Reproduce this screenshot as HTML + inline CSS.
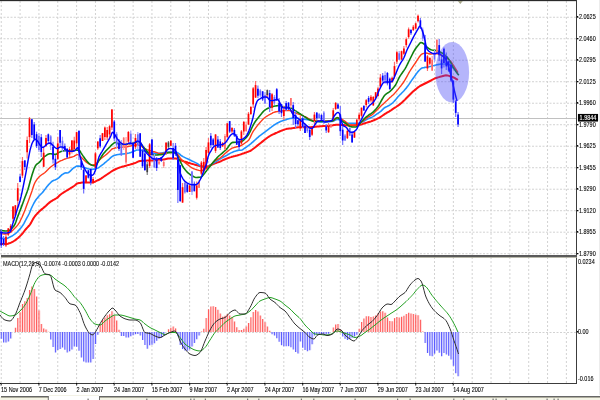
<!DOCTYPE html>
<html><head><meta charset="utf-8"><style>
html,body{margin:0;padding:0;background:#fff;width:600px;height:400px;overflow:hidden;}
svg{display:block;}
</style></head><body>
<svg width="600" height="400" viewBox="0 0 600 400"><g stroke="#d2d2d2" stroke-width="1"><line x1="1.25" y1="1" x2="1.25" y2="255" stroke-dasharray="2 2"/><line x1="1.25" y1="257" x2="1.25" y2="383" stroke-dasharray="2 2"/><line x1="20.09" y1="1" x2="20.09" y2="255" stroke-dasharray="2 2"/><line x1="20.09" y1="257" x2="20.09" y2="383" stroke-dasharray="2 2"/><line x1="38.93" y1="1" x2="38.93" y2="255" stroke-dasharray="2 2"/><line x1="38.93" y1="257" x2="38.93" y2="383" stroke-dasharray="2 2"/><line x1="57.76" y1="1" x2="57.76" y2="255" stroke-dasharray="2 2"/><line x1="57.76" y1="257" x2="57.76" y2="383" stroke-dasharray="2 2"/><line x1="76.6" y1="1" x2="76.6" y2="255" stroke-dasharray="2 2"/><line x1="76.6" y1="257" x2="76.6" y2="383" stroke-dasharray="2 2"/><line x1="95.44" y1="1" x2="95.44" y2="255" stroke-dasharray="2 2"/><line x1="95.44" y1="257" x2="95.44" y2="383" stroke-dasharray="2 2"/><line x1="114.28" y1="1" x2="114.28" y2="255" stroke-dasharray="2 2"/><line x1="114.28" y1="257" x2="114.28" y2="383" stroke-dasharray="2 2"/><line x1="133.12" y1="1" x2="133.12" y2="255" stroke-dasharray="2 2"/><line x1="133.12" y1="257" x2="133.12" y2="383" stroke-dasharray="2 2"/><line x1="151.95" y1="1" x2="151.95" y2="255" stroke-dasharray="2 2"/><line x1="151.95" y1="257" x2="151.95" y2="383" stroke-dasharray="2 2"/><line x1="170.79" y1="1" x2="170.79" y2="255" stroke-dasharray="2 2"/><line x1="170.79" y1="257" x2="170.79" y2="383" stroke-dasharray="2 2"/><line x1="189.63" y1="1" x2="189.63" y2="255" stroke-dasharray="2 2"/><line x1="189.63" y1="257" x2="189.63" y2="383" stroke-dasharray="2 2"/><line x1="208.47" y1="1" x2="208.47" y2="255" stroke-dasharray="2 2"/><line x1="208.47" y1="257" x2="208.47" y2="383" stroke-dasharray="2 2"/><line x1="227.31" y1="1" x2="227.31" y2="255" stroke-dasharray="2 2"/><line x1="227.31" y1="257" x2="227.31" y2="383" stroke-dasharray="2 2"/><line x1="246.14" y1="1" x2="246.14" y2="255" stroke-dasharray="2 2"/><line x1="246.14" y1="257" x2="246.14" y2="383" stroke-dasharray="2 2"/><line x1="264.98" y1="1" x2="264.98" y2="255" stroke-dasharray="2 2"/><line x1="264.98" y1="257" x2="264.98" y2="383" stroke-dasharray="2 2"/><line x1="283.82" y1="1" x2="283.82" y2="255" stroke-dasharray="2 2"/><line x1="283.82" y1="257" x2="283.82" y2="383" stroke-dasharray="2 2"/><line x1="302.66" y1="1" x2="302.66" y2="255" stroke-dasharray="2 2"/><line x1="302.66" y1="257" x2="302.66" y2="383" stroke-dasharray="2 2"/><line x1="321.5" y1="1" x2="321.5" y2="255" stroke-dasharray="2 2"/><line x1="321.5" y1="257" x2="321.5" y2="383" stroke-dasharray="2 2"/><line x1="340.33" y1="1" x2="340.33" y2="255" stroke-dasharray="2 2"/><line x1="340.33" y1="257" x2="340.33" y2="383" stroke-dasharray="2 2"/><line x1="359.17" y1="1" x2="359.17" y2="255" stroke-dasharray="2 2"/><line x1="359.17" y1="257" x2="359.17" y2="383" stroke-dasharray="2 2"/><line x1="378.01" y1="1" x2="378.01" y2="255" stroke-dasharray="2 2"/><line x1="378.01" y1="257" x2="378.01" y2="383" stroke-dasharray="2 2"/><line x1="396.85" y1="1" x2="396.85" y2="255" stroke-dasharray="2 2"/><line x1="396.85" y1="257" x2="396.85" y2="383" stroke-dasharray="2 2"/><line x1="415.69" y1="1" x2="415.69" y2="255" stroke-dasharray="2 2"/><line x1="415.69" y1="257" x2="415.69" y2="383" stroke-dasharray="2 2"/><line x1="434.52" y1="1" x2="434.52" y2="255" stroke-dasharray="2 2"/><line x1="434.52" y1="257" x2="434.52" y2="383" stroke-dasharray="2 2"/><line x1="453.36" y1="1" x2="453.36" y2="255" stroke-dasharray="2 2"/><line x1="453.36" y1="257" x2="453.36" y2="383" stroke-dasharray="2 2"/><line x1="472.2" y1="1" x2="472.2" y2="255" stroke-dasharray="2 2"/><line x1="472.2" y1="257" x2="472.2" y2="383" stroke-dasharray="2 2"/><line x1="491.04" y1="1" x2="491.04" y2="255" stroke-dasharray="2 2"/><line x1="491.04" y1="257" x2="491.04" y2="383" stroke-dasharray="2 2"/><line x1="509.88" y1="1" x2="509.88" y2="255" stroke-dasharray="2 2"/><line x1="509.88" y1="257" x2="509.88" y2="383" stroke-dasharray="2 2"/><line x1="528.71" y1="1" x2="528.71" y2="255" stroke-dasharray="2 2"/><line x1="528.71" y1="257" x2="528.71" y2="383" stroke-dasharray="2 2"/><line x1="547.55" y1="1" x2="547.55" y2="255" stroke-dasharray="2 2"/><line x1="547.55" y1="257" x2="547.55" y2="383" stroke-dasharray="2 2"/><line x1="566.39" y1="1" x2="566.39" y2="255" stroke-dasharray="2 2"/><line x1="566.39" y1="257" x2="566.39" y2="383" stroke-dasharray="2 2"/><line x1="0" y1="17.25" x2="576" y2="17.25" stroke-dasharray="2 1.5"/><line x1="0" y1="38.75" x2="576" y2="38.75" stroke-dasharray="2 1.5"/><line x1="0" y1="60.24" x2="576" y2="60.24" stroke-dasharray="2 1.5"/><line x1="0" y1="81.73" x2="576" y2="81.73" stroke-dasharray="2 1.5"/><line x1="0" y1="103.23" x2="576" y2="103.23" stroke-dasharray="2 1.5"/><line x1="0" y1="124.73" x2="576" y2="124.73" stroke-dasharray="2 1.5"/><line x1="0" y1="146.22" x2="576" y2="146.22" stroke-dasharray="2 1.5"/><line x1="0" y1="167.72" x2="576" y2="167.72" stroke-dasharray="2 1.5"/><line x1="0" y1="189.21" x2="576" y2="189.21" stroke-dasharray="2 1.5"/><line x1="0" y1="210.71" x2="576" y2="210.71" stroke-dasharray="2 1.5"/><line x1="0" y1="232.2" x2="576" y2="232.2" stroke-dasharray="2 1.5"/><line x1="0" y1="253.7" x2="576" y2="253.7" stroke-dasharray="2 1.5"/><line x1="0" y1="332.5" x2="576" y2="332.5" stroke-dasharray="2 1.5"/></g>
<line x1="0" y1="118.5" x2="576" y2="118.5" stroke="#c0c0c0" stroke-width="1"/>
<polyline points="0.0,244.0 1.0,244.0 2.0,244.0 3.0,244.0 4.0,244.0 5.0,244.0 6.0,244.0 7.0,243.9 8.0,243.7 9.0,243.3 10.0,243.0 11.0,242.6 12.0,242.1 13.0,241.6 14.0,241.0 15.0,240.4 16.0,239.6 17.0,238.8 18.0,238.0 19.0,237.1 20.0,236.1 21.0,235.1 22.0,234.0 23.0,232.8 24.0,231.5 25.0,230.2 26.0,229.0 27.0,227.9 28.0,226.8 29.0,225.8 30.0,224.5 31.0,222.9 32.0,221.0 33.0,219.1 34.0,217.5 35.0,216.2 36.0,214.9 37.0,213.8 38.0,212.8 39.0,211.7 40.0,210.8 41.0,209.9 42.0,209.1 43.0,208.3 44.0,207.4 45.0,206.6 46.0,205.7 47.0,204.7 48.0,203.8 49.0,202.9 50.0,202.1 51.0,201.4 52.0,200.8 53.0,200.2 54.0,199.7 55.0,199.1 56.0,198.5 57.0,197.9 58.0,197.1 59.0,196.0 60.0,195.0 61.0,194.2 62.0,193.5 63.0,192.9 64.0,192.2 65.0,191.6 66.0,191.0 67.0,190.4 68.0,189.8 69.0,189.2 70.0,188.5 71.0,187.9 72.0,187.3 73.0,186.7 74.0,186.0 75.0,185.2 76.0,184.3 77.0,183.6 78.0,183.3 79.0,183.1 80.0,182.9 81.0,182.7 82.0,182.6 83.0,182.5 84.0,182.5 85.0,182.5 86.0,182.5 87.0,182.5 88.0,182.5 89.0,182.5 90.0,182.5 91.0,182.5 92.0,182.5 93.0,182.3 94.0,182.0 95.0,181.7 96.0,181.2 97.0,180.7 98.0,180.2 99.0,179.8 100.0,179.2 101.0,178.6 102.0,177.9 103.0,177.2 104.0,176.5 105.0,175.8 106.0,175.2 107.0,174.5 108.0,173.8 109.0,173.2 110.0,172.5 111.0,171.8 112.0,171.1 113.0,170.5 114.0,170.0 115.0,169.5 116.0,169.0 117.0,168.6 118.0,168.1 119.0,167.8 120.0,167.4 121.0,167.1 122.0,166.8 123.0,166.5 124.0,166.3 125.0,166.0 126.0,165.7 127.0,165.4 128.0,165.1 129.0,164.9 130.0,164.6 131.0,164.3 132.0,164.0 133.0,163.7 134.0,163.3 135.0,163.0 136.0,162.6 137.0,162.1 138.0,161.6 139.0,161.2 140.0,161.0 141.0,160.9 142.0,160.8 143.0,160.8 144.0,160.7 145.0,160.7 146.0,160.7 147.0,160.6 148.0,160.6 149.0,160.5 150.0,160.5 151.0,160.5 152.0,160.4 153.0,160.4 154.0,160.3 155.0,160.3 156.0,160.2 157.0,160.2 158.0,160.1 159.0,160.1 160.0,160.0 161.0,159.9 162.0,159.7 163.0,159.6 164.0,159.4 165.0,159.2 166.0,159.0 167.0,158.8 168.0,158.6 169.0,158.5 170.0,158.5 171.0,158.5 172.0,158.5 173.0,158.5 174.0,158.5 175.0,158.5 176.0,158.5 177.0,158.7 178.0,159.1 179.0,159.6 180.0,160.0 181.0,160.4 182.0,160.7 183.0,161.0 184.0,161.4 185.0,161.7 186.0,162.0 187.0,162.3 188.0,162.7 189.0,163.0 190.0,163.3 191.0,163.6 192.0,163.9 193.0,164.1 194.0,164.4 195.0,164.7 196.0,165.0 197.0,165.3 198.0,165.6 199.0,165.9 200.0,166.1 201.0,166.2 202.0,166.3 203.0,166.4 204.0,166.4 205.0,166.5 206.0,166.5 207.0,166.5 208.0,166.3 209.0,166.0 210.0,165.6 211.0,165.1 212.0,164.6 213.0,164.2 214.0,163.7 215.0,163.3 216.0,163.0 217.0,162.6 218.0,162.3 219.0,162.0 220.0,161.6 221.0,161.2 222.0,160.7 223.0,160.2 224.0,159.7 225.0,159.3 226.0,158.8 227.0,158.5 228.0,158.1 229.0,157.7 230.0,157.4 231.0,157.1 232.0,156.7 233.0,156.5 234.0,156.2 235.0,156.0 236.0,155.7 237.0,155.5 238.0,155.2 239.0,154.9 240.0,154.6 241.0,154.3 242.0,153.9 243.0,153.5 244.0,153.2 245.0,152.8 246.0,152.5 247.0,152.1 248.0,151.8 249.0,151.4 250.0,151.0 251.0,150.5 252.0,149.8 253.0,149.0 254.0,148.3 255.0,147.5 256.0,146.7 257.0,145.9 258.0,145.1 259.0,144.3 260.0,143.5 261.0,142.7 262.0,141.9 263.0,141.1 264.0,140.3 265.0,139.5 266.0,138.8 267.0,138.0 268.0,137.3 269.0,136.6 270.0,136.0 271.0,135.4 272.0,134.9 273.0,134.4 274.0,134.0 275.0,133.5 276.0,133.0 277.0,132.6 278.0,132.1 279.0,131.7 280.0,131.3 281.0,130.9 282.0,130.5 283.0,130.1 284.0,129.7 285.0,129.4 286.0,129.1 287.0,128.8 288.0,128.7 289.0,128.6 290.0,128.5 291.0,128.4 292.0,128.2 293.0,128.1 294.0,127.9 295.0,127.7 296.0,127.6 297.0,127.4 298.0,127.3 299.0,127.2 300.0,127.2 301.0,127.2 302.0,127.2 303.0,127.2 304.0,127.2 305.0,127.2 306.0,127.2 307.0,127.2 308.0,127.2 309.0,127.2 310.0,127.2 311.0,127.2 312.0,127.1 313.0,127.1 314.0,127.0 315.0,126.8 316.0,126.7 317.0,126.6 318.0,126.5 319.0,126.4 320.0,126.3 321.0,126.2 322.0,126.2 323.0,126.1 324.0,126.1 325.0,126.0 326.0,126.0 327.0,125.9 328.0,125.8 329.0,125.8 330.0,125.7 331.0,125.6 332.0,125.4 333.0,125.3 334.0,125.1 335.0,124.9 336.0,124.8 337.0,124.8 338.0,124.8 339.0,124.8 340.0,124.9 341.0,125.0 342.0,125.0 343.0,125.1 344.0,125.1 345.0,125.2 346.0,125.2 347.0,125.3 348.0,125.4 349.0,125.4 350.0,125.4 351.0,125.4 352.0,125.4 353.0,125.4 354.0,125.4 355.0,125.3 356.0,125.3 357.0,125.3 358.0,125.1 359.0,125.0 360.0,124.8 361.0,124.6 362.0,124.3 363.0,123.9 364.0,123.5 365.0,123.2 366.0,122.9 367.0,122.6 368.0,122.3 369.0,122.0 370.0,121.7 371.0,121.4 372.0,121.0 373.0,120.6 374.0,120.2 375.0,119.8 376.0,119.4 377.0,118.9 378.0,118.4 379.0,117.9 380.0,117.3 381.0,116.7 382.0,116.0 383.0,115.3 384.0,114.6 385.0,113.9 386.0,113.3 387.0,112.7 388.0,112.1 389.0,111.6 390.0,110.9 391.0,110.3 392.0,109.6 393.0,108.9 394.0,108.2 395.0,107.6 396.0,107.0 397.0,106.3 398.0,105.6 399.0,104.9 400.0,104.1 401.0,103.3 402.0,102.4 403.0,101.5 404.0,100.6 405.0,99.6 406.0,98.5 407.0,97.5 408.0,96.5 409.0,95.5 410.0,94.5 411.0,93.5 412.0,92.5 413.0,91.6 414.0,90.7 415.0,89.9 416.0,89.1 417.0,88.2 418.0,87.4 419.0,86.7 420.0,86.0 421.0,85.5 422.0,85.0 423.0,84.5 424.0,84.0 425.0,83.5 426.0,83.0 427.0,82.5 428.0,82.0 429.0,81.5 430.0,81.0 431.0,80.5 432.0,79.9 433.0,79.4 434.0,78.9 435.0,78.4 436.0,78.0 437.0,77.7 438.0,77.4 439.0,77.1 440.0,76.8 441.0,76.6 442.0,76.3 443.0,76.0 444.0,75.7 445.0,75.4 446.0,75.3 447.0,75.4 448.0,75.6 449.0,75.9 450.0,76.2 451.0,76.5 452.0,76.8 453.0,77.2 454.0,77.7 455.0,78.2 456.0,78.8 457.0,79.4 457.8,80.0" fill="none" stroke="#ff1010" stroke-width="2.0" stroke-linejoin="round" />
<polyline points="0.0,238.0 1.0,238.2 2.0,238.4 3.0,238.4 4.0,238.5 5.0,238.5 6.0,238.5 7.0,238.4 8.0,238.0 9.0,237.5 10.0,237.0 11.0,236.5 12.0,236.0 13.0,235.4 14.0,234.7 15.0,234.0 16.0,233.2 17.0,232.2 18.0,231.1 19.0,230.0 20.0,228.9 21.0,227.7 22.0,226.4 23.0,225.0 24.0,223.3 25.0,221.4 26.0,219.5 27.0,217.7 28.0,215.9 29.0,214.0 30.0,211.7 31.0,209.3 32.0,207.0 33.0,205.0 34.0,203.0 35.0,201.3 36.0,199.8 37.0,198.4 38.0,197.2 39.0,196.0 40.0,195.0 41.0,194.0 42.0,193.0 43.0,191.9 44.0,190.6 45.0,189.3 46.0,187.9 47.0,186.6 48.0,185.4 49.0,184.3 50.0,183.2 51.0,182.2 52.0,181.3 53.0,180.7 54.0,180.2 55.0,179.9 56.0,179.5 57.0,179.0 58.0,178.4 59.0,177.6 60.0,176.6 61.0,175.6 62.0,174.7 63.0,174.1 64.0,173.5 65.0,173.0 66.0,172.8 67.0,173.0 68.0,172.8 69.0,172.2 70.0,171.3 71.0,170.4 72.0,169.3 73.0,168.4 74.0,167.7 75.0,167.1 76.0,166.5 77.0,166.1 78.0,166.0 79.0,166.1 80.0,166.4 81.0,166.6 82.0,167.0 83.0,167.3 84.0,167.6 85.0,167.8 86.0,168.1 87.0,168.4 88.0,168.8 89.0,169.0 90.0,169.3 91.0,169.4 92.0,169.4 93.0,169.3 94.0,169.1 95.0,168.9 96.0,168.6 97.0,168.3 98.0,168.0 99.0,167.4 100.0,166.7 101.0,165.9 102.0,165.1 103.0,164.4 104.0,163.6 105.0,162.7 106.0,161.9 107.0,161.0 108.0,160.2 109.0,159.3 110.0,158.3 111.0,157.4 112.0,156.6 113.0,156.0 114.0,155.5 115.0,155.2 116.0,154.9 117.0,154.7 118.0,154.5 119.0,154.4 120.0,154.2 121.0,154.1 122.0,154.0 123.0,154.0 124.0,153.9 125.0,153.8 126.0,153.6 127.0,153.4 128.0,153.2 129.0,153.0 130.0,152.7 131.0,152.4 132.0,152.1 133.0,151.8 134.0,151.3 135.0,150.8 136.0,150.3 137.0,150.0 138.0,150.0 139.0,150.0 140.0,150.0 141.0,150.1 142.0,150.5 143.0,150.7 144.0,151.0 145.0,151.3 146.0,151.6 147.0,151.9 148.0,152.1 149.0,152.3 150.0,152.5 151.0,152.7 152.0,152.9 153.0,153.1 154.0,153.3 155.0,153.5 156.0,153.5 157.0,153.5 158.0,153.4 159.0,153.3 160.0,153.2 161.0,153.1 162.0,153.0 163.0,152.8 164.0,152.6 165.0,152.4 166.0,152.2 167.0,152.1 168.0,152.0 169.0,152.0 170.0,152.0 171.0,152.0 172.0,152.0 173.0,152.0 174.0,152.0 175.0,152.1 176.0,152.3 177.0,152.6 178.0,153.0 179.0,153.6 180.0,154.4 181.0,155.3 182.0,156.0 183.0,156.6 184.0,157.1 185.0,157.6 186.0,158.1 187.0,158.6 188.0,159.0 189.0,159.5 190.0,160.0 191.0,160.5 192.0,161.0 193.0,161.4 194.0,161.9 195.0,162.4 196.0,162.9 197.0,163.4 198.0,164.0 199.0,164.8 200.0,165.7 201.0,166.5 202.0,167.0 203.0,167.2 204.0,167.4 205.0,167.5 206.0,167.5 207.0,167.2 208.0,166.5 209.0,165.7 210.0,165.0 211.0,164.5 212.0,163.9 213.0,163.4 214.0,162.9 215.0,162.2 216.0,161.6 217.0,160.9 218.0,160.3 219.0,159.6 220.0,159.0 221.0,158.4 222.0,157.9 223.0,157.3 224.0,156.8 225.0,156.3 226.0,155.7 227.0,155.2 228.0,154.6 229.0,154.0 230.0,153.4 231.0,152.9 232.0,152.4 233.0,152.0 234.0,151.6 235.0,151.2 236.0,150.9 237.0,150.6 238.0,150.4 239.0,150.3 240.0,150.3 241.0,150.2 242.0,150.0 243.0,149.5 244.0,148.7 245.0,148.0 246.0,147.3 247.0,146.6 248.0,145.9 249.0,145.2 250.0,144.4 251.0,143.6 252.0,142.7 253.0,141.8 254.0,140.9 255.0,140.0 256.0,139.1 257.0,138.2 258.0,137.3 259.0,136.4 260.0,135.6 261.0,134.9 262.0,134.1 263.0,133.4 264.0,132.7 265.0,132.0 266.0,131.2 267.0,130.4 268.0,129.6 269.0,128.8 270.0,128.0 271.0,127.3 272.0,126.5 273.0,125.8 274.0,125.1 275.0,124.5 276.0,123.9 277.0,123.3 278.0,122.7 279.0,122.2 280.0,121.7 281.0,121.3 282.0,120.9 283.0,120.6 284.0,120.3 285.0,120.0 286.0,119.7 287.0,119.3 288.0,119.0 289.0,118.7 290.0,118.5 291.0,118.4 292.0,118.2 293.0,118.1 294.0,118.0 295.0,118.0 296.0,118.1 297.0,118.2 298.0,118.4 299.0,118.6 300.0,118.8 301.0,118.9 302.0,119.0 303.0,119.1 304.0,119.3 305.0,119.4 306.0,119.5 307.0,119.6 308.0,119.7 309.0,119.9 310.0,120.0 311.0,120.2 312.0,120.4 313.0,120.6 314.0,120.8 315.0,121.0 316.0,121.2 317.0,121.4 318.0,121.6 319.0,121.8 320.0,121.9 321.0,122.0 322.0,122.0 323.0,122.0 324.0,122.0 325.0,121.9 326.0,121.9 327.0,121.8 328.0,121.8 329.0,121.7 330.0,121.6 331.0,121.5 332.0,121.4 333.0,121.2 334.0,120.7 335.0,120.3 336.0,119.8 337.0,119.5 338.0,119.5 339.0,119.7 340.0,119.9 341.0,120.3 342.0,121.0 343.0,121.8 344.0,122.5 345.0,123.1 346.0,123.3 347.0,123.3 348.0,123.3 349.0,123.3 350.0,123.3 351.0,123.3 352.0,123.3 353.0,123.3 354.0,123.4 355.0,123.4 356.0,123.4 357.0,123.4 358.0,123.2 359.0,123.0 360.0,122.7 361.0,122.4 362.0,122.1 363.0,121.7 364.0,121.2 365.0,120.5 366.0,119.9 367.0,119.3 368.0,118.8 369.0,118.4 370.0,118.0 371.0,117.6 372.0,117.1 373.0,116.6 374.0,116.0 375.0,115.3 376.0,114.6 377.0,113.9 378.0,113.3 379.0,112.6 380.0,111.9 381.0,111.1 382.0,110.1 383.0,109.1 384.0,108.2 385.0,107.5 386.0,106.9 387.0,106.5 388.0,106.0 389.0,105.5 390.0,104.9 391.0,104.2 392.0,103.4 393.0,102.5 394.0,101.5 395.0,100.4 396.0,99.2 397.0,98.0 398.0,96.8 399.0,95.7 400.0,94.7 401.0,93.8 402.0,92.8 403.0,91.8 404.0,90.7 405.0,89.5 406.0,88.4 407.0,87.1 408.0,85.8 409.0,84.4 410.0,82.9 411.0,81.4 412.0,79.9 413.0,78.5 414.0,77.1 415.0,75.7 416.0,74.3 417.0,72.9 418.0,71.6 419.0,70.5 420.0,69.5 421.0,68.6 422.0,68.0 423.0,67.7 424.0,67.6 425.0,67.4 426.0,67.3 427.0,67.2 428.0,67.0 429.0,66.8 430.0,66.5 431.0,66.3 432.0,66.0 433.0,65.7 434.0,65.5 435.0,65.2 436.0,65.0 437.0,64.8 438.0,64.6 439.0,64.4 440.0,64.2 441.0,64.0 442.0,64.0 443.0,64.0 444.0,64.0 445.0,64.0 446.0,64.0 447.0,64.0 448.0,64.1 449.0,64.5 450.0,65.1 451.0,66.0 452.0,66.9 453.0,67.8 454.0,68.7 455.0,69.6 456.0,70.6 457.0,71.6 457.8,72.5" fill="none" stroke="#1e90ff" stroke-width="1.6" stroke-linejoin="round" />
<polyline points="0.0,233.5 1.0,233.7 2.0,233.9 3.0,233.9 4.0,234.0 5.0,234.0 6.0,234.0 7.0,233.9 8.0,233.5 9.0,233.0 10.0,232.5 11.0,231.8 12.0,231.0 13.0,230.0 14.0,229.0 15.0,228.0 16.0,227.0 17.0,225.9 18.0,224.6 19.0,223.1 20.0,221.3 21.0,219.2 22.0,217.2 23.0,214.9 24.0,212.5 25.0,210.0 26.0,207.3 27.0,204.6 28.0,202.0 29.0,199.3 30.0,196.5 31.0,193.7 32.0,190.9 33.0,187.8 34.0,184.8 35.0,182.5 36.0,180.8 37.0,179.3 38.0,178.1 39.0,177.0 40.0,176.0 41.0,175.2 42.0,174.5 43.0,173.9 44.0,173.2 45.0,172.5 46.0,171.6 47.0,170.5 48.0,169.5 49.0,168.4 50.0,167.5 51.0,166.7 52.0,166.0 53.0,165.3 54.0,164.6 55.0,164.0 56.0,163.4 57.0,162.8 58.0,162.3 59.0,161.7 60.0,161.2 61.0,160.7 62.0,160.3 63.0,159.8 64.0,159.4 65.0,159.0 66.0,158.7 67.0,158.3 68.0,158.1 69.0,157.8 70.0,157.5 71.0,157.3 72.0,157.0 73.0,156.7 74.0,156.3 75.0,155.7 76.0,155.1 77.0,154.6 78.0,154.6 79.0,155.2 80.0,156.1 81.0,157.0 82.0,158.0 83.0,159.1 84.0,160.1 85.0,161.0 86.0,161.9 87.0,162.6 88.0,163.3 89.0,163.9 90.0,164.5 91.0,164.9 92.0,165.0 93.0,164.9 94.0,164.7 95.0,164.5 96.0,163.9 97.0,162.8 98.0,161.5 99.0,160.4 100.0,159.5 101.0,158.6 102.0,157.7 103.0,156.9 104.0,156.2 105.0,155.5 106.0,154.7 107.0,153.9 108.0,153.0 109.0,152.1 110.0,151.1 111.0,149.9 112.0,149.0 113.0,148.6 114.0,148.3 115.0,148.0 116.0,147.7 117.0,147.5 118.0,147.3 119.0,147.2 120.0,147.2 121.0,147.1 122.0,147.1 123.0,147.1 124.0,147.1 125.0,147.0 126.0,146.9 127.0,146.7 128.0,146.5 129.0,146.3 130.0,146.1 131.0,145.9 132.0,145.7 133.0,145.5 134.0,145.4 135.0,145.2 136.0,145.1 137.0,145.0 138.0,145.0 139.0,145.3 140.0,145.6 141.0,146.1 142.0,146.7 143.0,147.5 144.0,148.2 145.0,148.8 146.0,149.2 147.0,149.6 148.0,149.9 149.0,150.3 150.0,150.6 151.0,150.9 152.0,151.2 153.0,151.5 154.0,151.7 155.0,152.0 156.0,152.3 157.0,152.7 158.0,153.1 159.0,153.4 160.0,153.5 161.0,153.5 162.0,153.4 163.0,153.3 164.0,153.1 165.0,153.0 166.0,152.9 167.0,152.7 168.0,152.6 169.0,152.5 170.0,152.5 171.0,152.5 172.0,152.5 173.0,152.5 174.0,152.5 175.0,152.5 176.0,152.8 177.0,153.6 178.0,154.8 179.0,156.1 180.0,157.6 181.0,158.9 182.0,160.0 183.0,160.9 184.0,161.7 185.0,162.6 186.0,163.4 187.0,164.1 188.0,164.9 189.0,165.7 190.0,166.5 191.0,167.2 192.0,167.9 193.0,168.4 194.0,168.8 195.0,169.2 196.0,169.5 197.0,169.8 198.0,170.1 199.0,170.4 200.0,170.6 201.0,170.7 202.0,170.6 203.0,170.2 204.0,169.8 205.0,169.2 206.0,168.4 207.0,167.5 208.0,166.6 209.0,165.9 210.0,165.2 211.0,164.5 212.0,163.7 213.0,162.6 214.0,161.6 215.0,160.9 216.0,160.3 217.0,159.7 218.0,159.2 219.0,158.7 220.0,158.0 221.0,157.2 222.0,156.4 223.0,155.4 224.0,154.5 225.0,153.6 226.0,152.7 227.0,151.9 228.0,151.1 229.0,150.2 230.0,149.5 231.0,148.8 232.0,148.2 233.0,147.8 234.0,147.5 235.0,147.2 236.0,147.0 237.0,146.7 238.0,146.6 239.0,146.3 240.0,146.0 241.0,145.5 242.0,145.0 243.0,144.4 244.0,143.7 245.0,143.0 246.0,142.3 247.0,141.6 248.0,140.8 249.0,139.7 250.0,137.9 251.0,135.6 252.0,133.5 253.0,131.7 254.0,130.2 255.0,128.8 256.0,127.4 257.0,126.1 258.0,124.8 259.0,123.6 260.0,122.5 261.0,121.4 262.0,120.3 263.0,119.3 264.0,118.3 265.0,117.5 266.0,116.8 267.0,116.1 268.0,115.5 269.0,114.9 270.0,114.4 271.0,113.8 272.0,113.3 273.0,112.7 274.0,112.3 275.0,112.0 276.0,111.8 277.0,111.6 278.0,111.5 279.0,111.4 280.0,111.2 281.0,111.1 282.0,110.9 283.0,110.8 284.0,110.6 285.0,110.6 286.0,110.6 287.0,110.6 288.0,110.6 289.0,110.6 290.0,110.6 291.0,111.0 292.0,111.7 293.0,112.2 294.0,112.6 295.0,112.9 296.0,113.2 297.0,113.6 298.0,113.9 299.0,114.3 300.0,114.6 301.0,115.0 302.0,115.4 303.0,115.8 304.0,116.3 305.0,116.7 306.0,117.2 307.0,117.7 308.0,118.3 309.0,118.9 310.0,119.5 311.0,120.0 312.0,120.5 313.0,120.7 314.0,120.9 315.0,121.0 316.0,121.0 317.0,121.0 318.0,121.0 319.0,121.0 320.0,121.0 321.0,121.0 322.0,121.0 323.0,121.0 324.0,121.0 325.0,121.0 326.0,121.0 327.0,121.0 328.0,121.0 329.0,121.0 330.0,121.0 331.0,121.0 332.0,121.0 333.0,120.7 334.0,120.1 335.0,119.3 336.0,118.5 337.0,118.1 338.0,118.0 339.0,118.2 340.0,118.6 341.0,119.0 342.0,119.5 343.0,120.0 344.0,120.6 345.0,121.3 346.0,122.0 347.0,122.9 348.0,123.8 349.0,124.7 350.0,125.0 351.0,125.0 352.0,125.0 353.0,125.0 354.0,125.0 355.0,125.0 356.0,125.0 357.0,124.9 358.0,124.5 359.0,123.9 360.0,123.2 361.0,122.4 362.0,121.6 363.0,120.9 364.0,120.2 365.0,119.4 366.0,118.6 367.0,117.8 368.0,117.2 369.0,116.6 370.0,116.0 371.0,115.4 372.0,114.8 373.0,114.0 374.0,113.0 375.0,111.9 376.0,110.9 377.0,109.9 378.0,108.9 379.0,107.9 380.0,106.9 381.0,106.0 382.0,105.1 383.0,104.2 384.0,103.2 385.0,102.3 386.0,101.3 387.0,100.4 388.0,99.4 389.0,98.5 390.0,97.5 391.0,96.7 392.0,95.8 393.0,95.0 394.0,94.0 395.0,92.9 396.0,91.8 397.0,90.6 398.0,89.4 399.0,88.1 400.0,86.9 401.0,85.7 402.0,84.3 403.0,83.0 404.0,81.5 405.0,79.9 406.0,78.1 407.0,76.3 408.0,74.5 409.0,72.7 410.0,71.0 411.0,69.4 412.0,67.9 413.0,66.4 414.0,64.9 415.0,63.5 416.0,62.0 417.0,60.4 418.0,58.8 419.0,57.3 420.0,56.0 421.0,54.8 422.0,54.0 423.0,53.6 424.0,53.3 425.0,53.1 426.0,53.0 427.0,53.2 428.0,53.5 429.0,53.8 430.0,54.0 431.0,54.0 432.0,53.9 433.0,53.9 434.0,53.9 435.0,53.8 436.0,53.8 437.0,53.9 438.0,54.1 439.0,54.4 440.0,54.8 441.0,55.2 442.0,55.6 443.0,56.0 444.0,56.5 445.0,57.0 446.0,57.5 447.0,58.2 448.0,58.9 449.0,59.7 450.0,60.7 451.0,61.8 452.0,63.1 453.0,64.6 454.0,66.2 455.0,67.8 456.0,69.4 457.0,71.1 457.8,72.5" fill="none" stroke="#ff3a1a" stroke-width="1.4" stroke-linejoin="round" />
<polyline points="0.0,230.0 1.0,230.4 2.0,230.6 3.0,230.8 4.0,230.9 5.0,231.0 6.0,231.0 7.0,230.9 8.0,230.7 9.0,230.4 10.0,230.0 11.0,229.3 12.0,228.2 13.0,227.0 14.0,225.9 15.0,224.2 16.0,221.5 17.0,218.5 18.0,215.9 19.0,213.3 20.0,210.7 21.0,208.1 22.0,205.4 23.0,202.7 24.0,200.0 25.0,197.3 26.0,194.7 27.0,192.1 28.0,189.2 29.0,185.7 30.0,182.0 31.0,178.5 32.0,175.1 33.0,171.9 34.0,169.0 35.0,166.7 36.0,165.0 37.0,164.0 38.0,163.3 39.0,162.6 40.0,161.7 41.0,160.3 42.0,159.1 43.0,158.0 44.0,157.0 45.0,156.2 46.0,155.6 47.0,154.9 48.0,154.3 49.0,153.9 50.0,153.8 51.0,153.8 52.0,154.0 53.0,154.2 54.0,154.3 55.0,154.4 56.0,154.2 57.0,153.7 58.0,153.0 59.0,152.4 60.0,151.9 61.0,151.5 62.0,151.2 63.0,150.9 64.0,150.7 65.0,150.6 66.0,150.7 67.0,150.8 68.0,151.0 69.0,151.2 70.0,151.2 71.0,151.1 72.0,150.8 73.0,150.4 74.0,150.1 75.0,150.0 76.0,150.0 77.0,150.1 78.0,150.3 79.0,150.6 80.0,151.0 81.0,152.8 82.0,154.4 83.0,155.9 84.0,157.3 85.0,158.7 86.0,160.1 87.0,161.3 88.0,162.4 89.0,163.3 90.0,164.1 91.0,164.8 92.0,165.2 93.0,165.5 94.0,165.7 95.0,165.8 96.0,165.2 97.0,163.8 98.0,162.1 99.0,160.4 100.0,158.9 101.0,157.3 102.0,155.7 103.0,154.3 104.0,153.1 105.0,151.9 106.0,150.8 107.0,149.7 108.0,148.7 109.0,147.7 110.0,146.7 111.0,145.6 112.0,144.6 113.0,143.8 114.0,143.0 115.0,142.5 116.0,142.5 117.0,143.0 118.0,143.6 119.0,144.1 120.0,144.4 121.0,144.4 122.0,144.4 123.0,144.4 124.0,144.4 125.0,144.4 126.0,144.4 127.0,144.3 128.0,144.1 129.0,143.9 130.0,143.8 131.0,143.5 132.0,143.3 133.0,143.0 134.0,142.7 135.0,142.5 136.0,142.2 137.0,142.0 138.0,142.0 139.0,142.2 140.0,142.5 141.0,143.6 142.0,145.3 143.0,146.6 144.0,147.7 145.0,148.8 146.0,149.9 147.0,151.2 148.0,152.5 149.0,153.4 150.0,154.0 151.0,154.3 152.0,154.5 153.0,154.7 154.0,154.9 155.0,155.0 156.0,155.0 157.0,155.0 158.0,154.9 159.0,154.8 160.0,154.7 161.0,154.6 162.0,154.5 163.0,154.3 164.0,154.1 165.0,153.7 166.0,153.4 167.0,153.0 168.0,152.8 169.0,152.6 170.0,152.5 171.0,152.5 172.0,152.5 173.0,152.5 174.0,152.5 175.0,152.9 176.0,153.8 177.0,155.0 178.0,156.6 179.0,158.8 180.0,160.8 181.0,162.9 182.0,165.0 183.0,166.8 184.0,168.3 185.0,169.6 186.0,170.8 187.0,171.9 188.0,172.9 189.0,173.7 190.0,174.5 191.0,175.2 192.0,175.8 193.0,176.3 194.0,176.8 195.0,177.2 196.0,177.5 197.0,177.5 198.0,177.4 199.0,177.3 200.0,177.2 201.0,177.0 202.0,176.4 203.0,175.3 204.0,174.0 205.0,172.8 206.0,171.4 207.0,170.1 208.0,168.7 209.0,167.5 210.0,166.2 211.0,164.9 212.0,163.7 213.0,162.5 214.0,161.3 215.0,160.1 216.0,159.0 217.0,157.9 218.0,156.8 219.0,155.8 220.0,155.0 221.0,154.2 222.0,153.3 223.0,152.4 224.0,151.5 225.0,150.6 226.0,149.6 227.0,148.6 228.0,147.2 229.0,145.8 230.0,144.5 231.0,143.4 232.0,142.6 233.0,142.4 234.0,142.4 235.0,142.3 236.0,142.2 237.0,142.1 238.0,142.1 239.0,142.0 240.0,141.9 241.0,141.7 242.0,141.4 243.0,140.6 244.0,139.8 245.0,138.8 246.0,137.7 247.0,136.6 248.0,135.2 249.0,133.7 250.0,131.9 251.0,129.6 252.0,127.5 253.0,125.5 254.0,123.7 255.0,122.0 256.0,120.5 257.0,119.2 258.0,117.9 259.0,116.7 260.0,115.5 261.0,114.3 262.0,113.0 263.0,111.9 264.0,110.8 265.0,110.0 266.0,109.4 267.0,108.8 268.0,108.3 269.0,107.9 270.0,107.5 271.0,107.1 272.0,106.8 273.0,106.5 274.0,106.2 275.0,106.0 276.0,105.9 277.0,105.7 278.0,105.6 279.0,105.5 280.0,105.5 281.0,105.9 282.0,106.7 283.0,107.0 284.0,107.1 285.0,107.3 286.0,107.3 287.0,107.4 288.0,107.6 289.0,107.7 290.0,107.8 291.0,108.0 292.0,108.4 293.0,109.1 294.0,109.9 295.0,110.6 296.0,111.2 297.0,111.9 298.0,112.5 299.0,113.1 300.0,113.8 301.0,114.4 302.0,115.1 303.0,115.7 304.0,116.4 305.0,117.0 306.0,117.6 307.0,118.3 308.0,119.0 309.0,119.5 310.0,120.0 311.0,120.4 312.0,120.8 313.0,121.2 314.0,121.4 315.0,121.5 316.0,121.5 317.0,121.5 318.0,121.5 319.0,121.5 320.0,121.5 321.0,121.5 322.0,121.5 323.0,121.5 324.0,121.5 325.0,121.5 326.0,121.4 327.0,121.4 328.0,121.3 329.0,121.3 330.0,121.2 331.0,121.1 332.0,121.0 333.0,120.6 334.0,119.9 335.0,119.0 336.0,118.1 337.0,117.6 338.0,117.7 339.0,118.7 340.0,119.7 341.0,120.4 342.0,121.0 343.0,121.6 344.0,122.2 345.0,122.8 346.0,123.5 347.0,124.3 348.0,125.2 349.0,126.0 350.0,126.5 351.0,126.7 352.0,126.9 353.0,127.0 354.0,127.0 355.0,127.0 356.0,127.0 357.0,126.6 358.0,125.5 359.0,124.5 360.0,123.4 361.0,122.3 362.0,121.2 363.0,120.1 364.0,119.0 365.0,118.0 366.0,117.1 367.0,116.3 368.0,115.6 369.0,114.8 370.0,114.2 371.0,113.6 372.0,112.9 373.0,112.1 374.0,111.2 375.0,110.1 376.0,109.0 377.0,107.8 378.0,106.5 379.0,105.0 380.0,103.2 381.0,101.3 382.0,99.5 383.0,97.8 384.0,96.2 385.0,95.0 386.0,94.1 387.0,93.4 388.0,92.8 389.0,92.1 390.0,91.3 391.0,90.4 392.0,89.4 393.0,88.3 394.0,87.1 395.0,85.8 396.0,84.1 397.0,82.2 398.0,80.0 399.0,77.9 400.0,76.2 401.0,74.6 402.0,73.2 403.0,71.8 404.0,70.4 405.0,68.8 406.0,67.1 407.0,65.2 408.0,63.1 409.0,61.0 410.0,59.0 411.0,57.0 412.0,55.0 413.0,53.0 414.0,51.2 415.0,49.5 416.0,48.0 417.0,46.7 418.0,45.5 419.0,44.2 420.0,43.0 421.0,42.5 422.0,42.7 423.0,43.3 424.0,44.0 425.0,44.9 426.0,46.0 427.0,47.1 428.0,48.0 429.0,48.6 430.0,49.2 431.0,49.7 432.0,50.0 433.0,50.2 434.0,50.3 435.0,50.4 436.0,50.5 437.0,50.8 438.0,51.1 439.0,51.5 440.0,52.0 441.0,52.5 442.0,53.0 443.0,53.7 444.0,54.3 445.0,55.1 446.0,56.0 447.0,57.0 448.0,58.3 449.0,59.7 450.0,61.3 451.0,63.2 452.0,65.2 453.0,67.0 454.0,68.6 455.0,70.1 456.0,71.6 457.0,73.0 458.0,74.3 458.8,75.3" fill="none" stroke="#108010" stroke-width="1.6" stroke-linejoin="round" />
<g stroke-width="1.2"><line x1="1.25" y1="229.0" x2="1.25" y2="248.0" stroke="#7070ff"/><line x1="3.6" y1="236.0" x2="3.6" y2="246.0" stroke="#7070ff"/><line x1="5.96" y1="235.0" x2="5.96" y2="247.0" stroke="#ff7070"/><line x1="8.31" y1="228.0" x2="8.31" y2="236.0" stroke="#ff7070"/><line x1="10.67" y1="224.0" x2="10.67" y2="233.0" stroke="#ff7070"/><line x1="13.02" y1="206.0" x2="13.02" y2="222.0" stroke="#ff7070"/><line x1="15.38" y1="205.0" x2="15.38" y2="216.0" stroke="#ff7070"/><line x1="17.73" y1="183.0" x2="17.73" y2="208.0" stroke="#ff7070"/><line x1="20.09" y1="174.0" x2="20.09" y2="182.0" stroke="#7070ff"/><line x1="22.44" y1="157.0" x2="22.44" y2="178.0" stroke="#ff7070"/><line x1="24.8" y1="160.0" x2="24.8" y2="170.0" stroke="#7070ff"/><line x1="27.15" y1="136.5" x2="27.15" y2="158.5" stroke="#ff7070"/><line x1="29.51" y1="117.0" x2="29.51" y2="143.0" stroke="#ff7070"/><line x1="31.86" y1="119.0" x2="31.86" y2="138.0" stroke="#7070ff"/><line x1="34.22" y1="122.0" x2="34.22" y2="140.0" stroke="#7070ff"/><line x1="36.57" y1="131.7" x2="36.57" y2="148.0" stroke="#7070ff"/><line x1="38.93" y1="133.0" x2="38.93" y2="152.0" stroke="#a0a0ff"/><line x1="41.28" y1="134.0" x2="41.28" y2="157.0" stroke="#7070ff"/><line x1="43.63" y1="146.7" x2="43.63" y2="166.8" stroke="#ff7070"/><line x1="45.99" y1="135.0" x2="45.99" y2="146.7" stroke="#ff7070"/><line x1="48.34" y1="133.4" x2="48.34" y2="143.4" stroke="#7070ff"/><line x1="50.7" y1="135.0" x2="50.7" y2="150.0" stroke="#a0a0ff"/><line x1="53.05" y1="141.7" x2="53.05" y2="163.5" stroke="#7070ff"/><line x1="55.41" y1="155.0" x2="55.41" y2="170.0" stroke="#7070ff"/><line x1="57.76" y1="136.7" x2="57.76" y2="160.0" stroke="#ff7070"/><line x1="60.12" y1="130.0" x2="60.12" y2="146.7" stroke="#7070ff"/><line x1="62.47" y1="136.7" x2="62.47" y2="151.8" stroke="#a0a0ff"/><line x1="64.83" y1="143.4" x2="64.83" y2="151.8" stroke="#7070ff"/><line x1="67.18" y1="148.4" x2="67.18" y2="158.5" stroke="#7070ff"/><line x1="69.54" y1="146.7" x2="69.54" y2="156.8" stroke="#ff7070"/><line x1="71.89" y1="140.0" x2="71.89" y2="153.5" stroke="#ff7070"/><line x1="74.25" y1="136.7" x2="74.25" y2="150.0" stroke="#ff7070"/><line x1="76.6" y1="131.7" x2="76.6" y2="146.7" stroke="#ff7070"/><line x1="78.96" y1="130.0" x2="78.96" y2="160.0" stroke="#7070ff"/><line x1="81.31" y1="158.5" x2="81.31" y2="170.0" stroke="#7070ff"/><line x1="83.66" y1="165.0" x2="83.66" y2="193.6" stroke="#7070ff"/><line x1="86.02" y1="175.0" x2="86.02" y2="183.6" stroke="#ff7070"/><line x1="88.37" y1="170.0" x2="88.37" y2="178.6" stroke="#7070ff"/><line x1="90.73" y1="168.5" x2="90.73" y2="183.6" stroke="#7070ff"/><line x1="90.73" y1="173.5" x2="90.73" y2="185.3" stroke="#7070ff"/><line x1="93.08" y1="177.0" x2="93.08" y2="183.6" stroke="#ff7070"/><line x1="95.44" y1="151.8" x2="95.44" y2="168.5" stroke="#ff7070"/><line x1="97.79" y1="141.0" x2="97.79" y2="150.0" stroke="#ff7070"/><line x1="100.15" y1="135.0" x2="100.15" y2="148.0" stroke="#7070ff"/><line x1="102.5" y1="133.0" x2="102.5" y2="141.0" stroke="#ff7070"/><line x1="104.86" y1="126.5" x2="104.86" y2="140.0" stroke="#ff7070"/><line x1="107.21" y1="127.0" x2="107.21" y2="140.0" stroke="#ff7070"/><line x1="109.57" y1="125.0" x2="109.57" y2="138.0" stroke="#ff7070"/><line x1="111.92" y1="109.0" x2="111.92" y2="130.0" stroke="#ff7070"/><line x1="114.28" y1="120.0" x2="114.28" y2="141.0" stroke="#7070ff"/><line x1="116.63" y1="132.0" x2="116.63" y2="148.0" stroke="#a0a0ff"/><line x1="118.98" y1="139.0" x2="118.98" y2="151.0" stroke="#7070ff"/><line x1="121.34" y1="140.0" x2="121.34" y2="156.0" stroke="#a0a0ff"/><line x1="123.69" y1="137.0" x2="123.69" y2="150.0" stroke="#ffa0a0"/><line x1="126.05" y1="137.0" x2="126.05" y2="164.0" stroke="#ffa0a0"/><line x1="128.4" y1="131.0" x2="128.4" y2="145.0" stroke="#ff7070"/><line x1="130.76" y1="130.5" x2="130.76" y2="145.0" stroke="#a0a0ff"/><line x1="133.11" y1="142.0" x2="133.11" y2="158.0" stroke="#7070ff"/><line x1="135.47" y1="134.0" x2="135.47" y2="149.0" stroke="#ff7070"/><line x1="137.82" y1="132.0" x2="137.82" y2="150.0" stroke="#a0a0ff"/><line x1="140.18" y1="133.0" x2="140.18" y2="157.0" stroke="#7070ff"/><line x1="142.53" y1="149.0" x2="142.53" y2="168.0" stroke="#7070ff"/><line x1="144.89" y1="152.0" x2="144.89" y2="171.0" stroke="#7070ff"/><line x1="147.24" y1="162.0" x2="147.24" y2="175.0" stroke="#808080"/><line x1="149.6" y1="143.0" x2="149.6" y2="168.0" stroke="#ff7070"/><line x1="151.95" y1="139.0" x2="151.95" y2="160.0" stroke="#7070ff"/><line x1="154.31" y1="154.0" x2="154.31" y2="168.0" stroke="#a0a0ff"/><line x1="156.66" y1="157.0" x2="156.66" y2="171.0" stroke="#7070ff"/><line x1="159.01" y1="160.0" x2="159.01" y2="165.0" stroke="#ffa0a0"/><line x1="161.37" y1="157.0" x2="161.37" y2="162.0" stroke="#7070ff"/><line x1="163.72" y1="161.0" x2="163.72" y2="168.0" stroke="#ffa0a0"/><line x1="166.08" y1="142.0" x2="166.08" y2="155.0" stroke="#ff7070"/><line x1="168.43" y1="141.0" x2="168.43" y2="149.0" stroke="#808080"/><line x1="170.79" y1="140.0" x2="170.79" y2="146.0" stroke="#ff7070"/><line x1="173.14" y1="143.0" x2="173.14" y2="160.0" stroke="#7070ff"/><line x1="175.5" y1="143.0" x2="175.5" y2="156.0" stroke="#7070ff"/><line x1="177.85" y1="158.0" x2="177.85" y2="203.0" stroke="#7070ff"/><line x1="180.21" y1="165.0" x2="180.21" y2="202.0" stroke="#7070ff"/><line x1="182.56" y1="183.0" x2="182.56" y2="202.8" stroke="#ff7070"/><line x1="184.92" y1="182.5" x2="184.92" y2="193.8" stroke="#a0a0ff"/><line x1="187.27" y1="183.0" x2="187.27" y2="192.7" stroke="#7070ff"/><line x1="189.63" y1="184.8" x2="189.63" y2="192.0" stroke="#ff7070"/><line x1="191.98" y1="171.0" x2="191.98" y2="195.0" stroke="#a0a0ff"/><line x1="194.34" y1="181.4" x2="194.34" y2="191.5" stroke="#7070ff"/><line x1="196.69" y1="181.4" x2="196.69" y2="199.4" stroke="#ff7070"/><line x1="199.04" y1="180.0" x2="199.04" y2="188.0" stroke="#ffa0a0"/><line x1="201.4" y1="161.0" x2="201.4" y2="175.0" stroke="#ff7070"/><line x1="203.75" y1="158.0" x2="203.75" y2="172.0" stroke="#ff7070"/><line x1="206.11" y1="147.0" x2="206.11" y2="170.0" stroke="#ff7070"/><line x1="208.46" y1="138.0" x2="208.46" y2="155.0" stroke="#ff7070"/><line x1="210.82" y1="133.0" x2="210.82" y2="148.0" stroke="#7070ff"/><line x1="213.17" y1="138.0" x2="213.17" y2="146.0" stroke="#7070ff"/><line x1="215.53" y1="134.0" x2="215.53" y2="153.0" stroke="#ff7070"/><line x1="217.88" y1="136.0" x2="217.88" y2="148.0" stroke="#7070ff"/><line x1="220.24" y1="139.0" x2="220.24" y2="150.0" stroke="#7070ff"/><line x1="222.59" y1="142.0" x2="222.59" y2="147.0" stroke="#ff7070"/><line x1="224.95" y1="134.0" x2="224.95" y2="150.0" stroke="#ffa0a0"/><line x1="227.3" y1="123.0" x2="227.3" y2="138.0" stroke="#ff7070"/><line x1="229.66" y1="121.0" x2="229.66" y2="133.0" stroke="#7070ff"/><line x1="232.01" y1="127.0" x2="232.01" y2="133.0" stroke="#ff7070"/><line x1="234.37" y1="128.0" x2="234.37" y2="137.0" stroke="#7070ff"/><line x1="236.72" y1="134.0" x2="236.72" y2="145.0" stroke="#7070ff"/><line x1="239.07" y1="140.0" x2="239.07" y2="150.0" stroke="#7070ff"/><line x1="241.43" y1="130.0" x2="241.43" y2="145.0" stroke="#ff7070"/><line x1="243.78" y1="121.0" x2="243.78" y2="135.0" stroke="#ff7070"/><line x1="246.14" y1="122.0" x2="246.14" y2="132.0" stroke="#ffa0a0"/><line x1="248.49" y1="112.0" x2="248.49" y2="125.0" stroke="#ff7070"/><line x1="250.85" y1="106.0" x2="250.85" y2="115.0" stroke="#ff7070"/><line x1="253.2" y1="87.0" x2="253.2" y2="108.0" stroke="#ff7070"/><line x1="255.56" y1="81.0" x2="255.56" y2="98.0" stroke="#ff7070"/><line x1="257.91" y1="85.5" x2="257.91" y2="98.0" stroke="#7070ff"/><line x1="260.27" y1="89.0" x2="260.27" y2="97.0" stroke="#a0a0ff"/><line x1="262.62" y1="91.0" x2="262.62" y2="101.0" stroke="#7070ff"/><line x1="264.98" y1="92.0" x2="264.98" y2="104.0" stroke="#a0a0ff"/><line x1="267.33" y1="93.0" x2="267.33" y2="98.0" stroke="#ffa0a0"/><line x1="267.33" y1="89.5" x2="267.33" y2="97.0" stroke="#808080"/><line x1="269.69" y1="90.0" x2="269.69" y2="112.0" stroke="#7070ff"/><line x1="272.04" y1="93.0" x2="272.04" y2="111.0" stroke="#ff7070"/><line x1="274.4" y1="95.0" x2="274.4" y2="105.0" stroke="#a0a0ff"/><line x1="276.75" y1="88.0" x2="276.75" y2="101.0" stroke="#7070ff"/><line x1="279.1" y1="98.0" x2="279.1" y2="114.0" stroke="#7070ff"/><line x1="281.46" y1="104.0" x2="281.46" y2="117.0" stroke="#7070ff"/><line x1="283.81" y1="106.0" x2="283.81" y2="120.0" stroke="#ff7070"/><line x1="286.17" y1="101.0" x2="286.17" y2="111.0" stroke="#7070ff"/><line x1="288.52" y1="102.0" x2="288.52" y2="110.0" stroke="#7070ff"/><line x1="290.88" y1="98.0" x2="290.88" y2="108.0" stroke="#ffa0a0"/><line x1="293.23" y1="102.0" x2="293.23" y2="125.0" stroke="#7070ff"/><line x1="295.59" y1="111.0" x2="295.59" y2="128.0" stroke="#7070ff"/><line x1="297.94" y1="120.0" x2="297.94" y2="126.0" stroke="#7070ff"/><line x1="300.3" y1="116.0" x2="300.3" y2="131.0" stroke="#ff7070"/><line x1="302.65" y1="116.0" x2="302.65" y2="128.0" stroke="#7070ff"/><line x1="305.01" y1="123.0" x2="305.01" y2="133.0" stroke="#7070ff"/><line x1="307.36" y1="126.0" x2="307.36" y2="133.0" stroke="#a0a0ff"/><line x1="309.72" y1="128.0" x2="309.72" y2="140.0" stroke="#7070ff"/><line x1="312.07" y1="128.0" x2="312.07" y2="136.0" stroke="#ff7070"/><line x1="314.43" y1="112.0" x2="314.43" y2="124.0" stroke="#ff7070"/><line x1="316.78" y1="112.0" x2="316.78" y2="120.0" stroke="#7070ff"/><line x1="319.13" y1="113.0" x2="319.13" y2="119.0" stroke="#a0a0ff"/><line x1="321.49" y1="114.0" x2="321.49" y2="120.0" stroke="#7070ff"/><line x1="323.84" y1="111.0" x2="323.84" y2="124.0" stroke="#a0a0ff"/><line x1="326.2" y1="124.0" x2="326.2" y2="133.0" stroke="#7070ff"/><line x1="328.55" y1="123.0" x2="328.55" y2="133.0" stroke="#ff7070"/><line x1="330.91" y1="124.0" x2="330.91" y2="128.0" stroke="#ffa0a0"/><line x1="333.26" y1="108.0" x2="333.26" y2="120.0" stroke="#ff7070"/><line x1="335.62" y1="102.0" x2="335.62" y2="110.0" stroke="#ff7070"/><line x1="337.97" y1="103.0" x2="337.97" y2="109.0" stroke="#7070ff"/><line x1="340.33" y1="106.0" x2="340.33" y2="136.0" stroke="#7070ff"/><line x1="342.68" y1="126.0" x2="342.68" y2="145.0" stroke="#7070ff"/><line x1="345.04" y1="134.0" x2="345.04" y2="141.0" stroke="#a0a0ff"/><line x1="347.39" y1="129.0" x2="347.39" y2="139.0" stroke="#ff7070"/><line x1="349.75" y1="127.5" x2="349.75" y2="136.0" stroke="#a0a0ff"/><line x1="352.1" y1="131.0" x2="352.1" y2="142.5" stroke="#7070ff"/><line x1="354.45" y1="131.0" x2="354.45" y2="138.0" stroke="#ff7070"/><line x1="356.81" y1="119.0" x2="356.81" y2="126.0" stroke="#ff7070"/><line x1="359.16" y1="112.5" x2="359.16" y2="121.0" stroke="#ff7070"/><line x1="361.52" y1="107.5" x2="361.52" y2="117.5" stroke="#ff7070"/><line x1="363.87" y1="105.0" x2="363.87" y2="111.0" stroke="#7070ff"/><line x1="366.23" y1="99.0" x2="366.23" y2="107.5" stroke="#ff7070"/><line x1="368.58" y1="96.0" x2="368.58" y2="104.0" stroke="#7070ff"/><line x1="370.94" y1="95.0" x2="370.94" y2="102.5" stroke="#ff7070"/><line x1="373.29" y1="96.0" x2="373.29" y2="106.0" stroke="#ff7070"/><line x1="375.65" y1="92.0" x2="375.65" y2="100.0" stroke="#ff7070"/><line x1="378.0" y1="87.0" x2="378.0" y2="96.7" stroke="#ff7070"/><line x1="380.36" y1="74.0" x2="380.36" y2="87.7" stroke="#ff7070"/><line x1="382.71" y1="73.0" x2="382.71" y2="82.0" stroke="#7070ff"/><line x1="385.07" y1="71.3" x2="385.07" y2="84.0" stroke="#a0a0ff"/><line x1="387.42" y1="72.0" x2="387.42" y2="85.4" stroke="#7070ff"/><line x1="389.78" y1="77.5" x2="389.78" y2="90.0" stroke="#7070ff"/><line x1="392.13" y1="76.4" x2="392.13" y2="83.0" stroke="#ff7070"/><line x1="394.48" y1="61.8" x2="394.48" y2="78.6" stroke="#ff7070"/><line x1="396.84" y1="51.0" x2="396.84" y2="64.0" stroke="#ff7070"/><line x1="399.19" y1="51.0" x2="399.19" y2="60.0" stroke="#a0a0ff"/><line x1="401.55" y1="50.6" x2="401.55" y2="60.0" stroke="#ff7070"/><line x1="403.9" y1="46.0" x2="403.9" y2="55.0" stroke="#ff7070"/><line x1="406.26" y1="37.5" x2="406.26" y2="47.5" stroke="#ff7070"/><line x1="408.61" y1="27.5" x2="408.61" y2="38.8" stroke="#ff7070"/><line x1="410.97" y1="29.0" x2="410.97" y2="35.0" stroke="#7070ff"/><line x1="413.32" y1="25.0" x2="413.32" y2="31.0" stroke="#ff7070"/><line x1="415.68" y1="22.5" x2="415.68" y2="29.0" stroke="#ff7070"/><line x1="418.03" y1="14.4" x2="418.03" y2="22.5" stroke="#ff7070"/><line x1="420.39" y1="18.0" x2="420.39" y2="29.0" stroke="#7070ff"/><line x1="422.74" y1="27.5" x2="422.74" y2="41.0" stroke="#a0a0ff"/><line x1="425.1" y1="35.0" x2="425.1" y2="62.0" stroke="#7070ff"/><line x1="427.45" y1="55.0" x2="427.45" y2="71.0" stroke="#ff7070"/><line x1="429.81" y1="57.5" x2="429.81" y2="65.0" stroke="#ff7070"/><line x1="432.16" y1="56.0" x2="432.16" y2="71.0" stroke="#ffa0a0"/><line x1="434.51" y1="50.0" x2="434.51" y2="62.0" stroke="#a0a0ff"/><line x1="436.87" y1="39.0" x2="436.87" y2="55.0" stroke="#ffa0a0"/><line x1="439.22" y1="39.0" x2="439.22" y2="61.0" stroke="#7070ff"/><line x1="441.58" y1="55.0" x2="441.58" y2="74.0" stroke="#7070ff"/><line x1="443.93" y1="47.5" x2="443.93" y2="67.5" stroke="#7070ff"/><line x1="446.29" y1="52.5" x2="446.29" y2="70.0" stroke="#7070ff"/><line x1="448.64" y1="60.0" x2="448.64" y2="72.0" stroke="#7070ff"/><line x1="451.0" y1="64.0" x2="451.0" y2="82.0" stroke="#7070ff"/><line x1="453.35" y1="80.0" x2="453.35" y2="103.0" stroke="#7070ff"/><line x1="455.71" y1="100.0" x2="455.71" y2="117.0" stroke="#7070ff"/><line x1="458.06" y1="112.0" x2="458.06" y2="127.0" stroke="#7070ff"/></g>
<g stroke-width="1.7"><line x1="1.25" y1="231.6" x2="1.25" y2="245.5" stroke="#0000ff"/><line x1="3.6" y1="238.8" x2="3.6" y2="244.4" stroke="#0000ff"/><line x1="5.96" y1="236.8" x2="5.96" y2="245.5" stroke="#ff0000"/><line x1="8.31" y1="228.4" x2="8.31" y2="234.8" stroke="#ff0000"/><line x1="10.67" y1="225.7" x2="10.67" y2="232.4" stroke="#ff0000"/><line x1="13.02" y1="206.5" x2="13.02" y2="218.7" stroke="#ff0000"/><line x1="15.38" y1="205.3" x2="15.38" y2="215.4" stroke="#ff0000"/><line x1="17.73" y1="188.2" x2="17.73" y2="200.8" stroke="#ff0000"/><line x1="20.09" y1="176.4" x2="20.09" y2="181.9" stroke="#0000ff"/><line x1="22.44" y1="161.1" x2="22.44" y2="175.6" stroke="#ff0000"/><line x1="24.8" y1="160.5" x2="24.8" y2="167.0" stroke="#0000ff"/><line x1="27.15" y1="140.0" x2="27.15" y2="152.3" stroke="#ff0000"/><line x1="29.51" y1="118.5" x2="29.51" y2="137.1" stroke="#ff0000"/><line x1="31.86" y1="119.2" x2="31.86" y2="134.9" stroke="#0000ff"/><line x1="34.22" y1="124.4" x2="34.22" y2="139.1" stroke="#0000ff"/><line x1="36.57" y1="134.2" x2="36.57" y2="146.2" stroke="#0000ff"/><line x1="38.93" y1="135.8" x2="38.93" y2="150.1" stroke="#6a6aff"/><line x1="41.28" y1="137.2" x2="41.28" y2="152.0" stroke="#0000ff"/><line x1="43.63" y1="152.7" x2="43.63" y2="166.8" stroke="#ff0000"/><line x1="45.99" y1="137.9" x2="45.99" y2="145.7" stroke="#ff0000"/><line x1="48.34" y1="134.3" x2="48.34" y2="141.1" stroke="#0000ff"/><line x1="50.7" y1="136.3" x2="50.7" y2="145.8" stroke="#6a6aff"/><line x1="53.05" y1="146.7" x2="53.05" y2="159.6" stroke="#0000ff"/><line x1="55.41" y1="158.8" x2="55.41" y2="167.2" stroke="#0000ff"/><line x1="57.76" y1="143.4" x2="57.76" y2="158.9" stroke="#ff0000"/><line x1="60.12" y1="130.0" x2="60.12" y2="142.7" stroke="#0000ff"/><line x1="62.47" y1="140.8" x2="62.47" y2="149.4" stroke="#6a6aff"/><line x1="64.83" y1="145.9" x2="64.83" y2="150.3" stroke="#0000ff"/><line x1="67.18" y1="148.6" x2="67.18" y2="157.4" stroke="#0000ff"/><line x1="69.54" y1="149.1" x2="69.54" y2="154.6" stroke="#ff0000"/><line x1="71.89" y1="140.4" x2="71.89" y2="150.8" stroke="#ff0000"/><line x1="74.25" y1="140.5" x2="74.25" y2="149.0" stroke="#ff0000"/><line x1="76.6" y1="132.2" x2="76.6" y2="143.3" stroke="#ff0000"/><line x1="78.96" y1="130.9" x2="78.96" y2="151.5" stroke="#0000ff"/><line x1="81.31" y1="161.2" x2="81.31" y2="167.2" stroke="#0000ff"/><line x1="83.66" y1="169.8" x2="83.66" y2="188.9" stroke="#0000ff"/><line x1="86.02" y1="175.5" x2="86.02" y2="182.9" stroke="#ff0000"/><line x1="88.37" y1="170.3" x2="88.37" y2="177.7" stroke="#0000ff"/><line x1="90.73" y1="169.0" x2="90.73" y2="181.0" stroke="#0000ff"/><line x1="90.73" y1="174.3" x2="90.73" y2="182.7" stroke="#0000ff"/><line x1="93.08" y1="178.9" x2="93.08" y2="183.2" stroke="#ff0000"/><line x1="95.44" y1="153.3" x2="95.44" y2="167.9" stroke="#ff0000"/><line x1="97.79" y1="141.6" x2="97.79" y2="148.4" stroke="#ff0000"/><line x1="100.15" y1="138.3" x2="100.15" y2="146.6" stroke="#0000ff"/><line x1="102.5" y1="133.2" x2="102.5" y2="141.0" stroke="#ff0000"/><line x1="104.86" y1="127.4" x2="104.86" y2="137.0" stroke="#ff0000"/><line x1="107.21" y1="130.0" x2="107.21" y2="137.4" stroke="#ff0000"/><line x1="109.57" y1="126.2" x2="109.57" y2="134.4" stroke="#ff0000"/><line x1="111.92" y1="109.6" x2="111.92" y2="127.4" stroke="#ff0000"/><line x1="114.28" y1="121.5" x2="114.28" y2="138.5" stroke="#0000ff"/><line x1="116.63" y1="133.8" x2="116.63" y2="145.4" stroke="#6a6aff"/><line x1="118.98" y1="142.5" x2="118.98" y2="149.1" stroke="#0000ff"/><line x1="121.34" y1="142.8" x2="121.34" y2="155.4" stroke="#6a6aff"/><line x1="123.69" y1="137.7" x2="123.69" y2="146.7" stroke="#ff6a6a"/><line x1="126.05" y1="144.4" x2="126.05" y2="162.5" stroke="#ff6a6a"/><line x1="128.4" y1="132.0" x2="128.4" y2="141.6" stroke="#ff0000"/><line x1="130.76" y1="133.7" x2="130.76" y2="144.7" stroke="#6a6aff"/><line x1="133.11" y1="142.9" x2="133.11" y2="157.8" stroke="#0000ff"/><line x1="135.47" y1="138.0" x2="135.47" y2="147.2" stroke="#ff0000"/><line x1="137.82" y1="134.3" x2="137.82" y2="145.2" stroke="#6a6aff"/><line x1="140.18" y1="133.3" x2="140.18" y2="156.7" stroke="#0000ff"/><line x1="142.53" y1="150.4" x2="142.53" y2="166.3" stroke="#0000ff"/><line x1="144.89" y1="153.5" x2="144.89" y2="170.0" stroke="#0000ff"/><line x1="147.24" y1="164.3" x2="147.24" y2="172.2" stroke="#404040"/><line x1="149.6" y1="144.3" x2="149.6" y2="165.9" stroke="#ff0000"/><line x1="151.95" y1="139.4" x2="151.95" y2="155.1" stroke="#0000ff"/><line x1="154.31" y1="156.3" x2="154.31" y2="167.4" stroke="#6a6aff"/><line x1="156.66" y1="159.6" x2="156.66" y2="168.0" stroke="#0000ff"/><line x1="159.01" y1="161.4" x2="159.01" y2="163.8" stroke="#ff6a6a"/><line x1="161.37" y1="157.0" x2="161.37" y2="160.9" stroke="#0000ff"/><line x1="163.72" y1="161.9" x2="163.72" y2="166.0" stroke="#ff6a6a"/><line x1="166.08" y1="142.7" x2="166.08" y2="152.5" stroke="#ff0000"/><line x1="168.43" y1="142.4" x2="168.43" y2="146.9" stroke="#404040"/><line x1="170.79" y1="140.7" x2="170.79" y2="145.8" stroke="#ff0000"/><line x1="173.14" y1="148.0" x2="173.14" y2="158.3" stroke="#0000ff"/><line x1="175.5" y1="145.7" x2="175.5" y2="154.4" stroke="#0000ff"/><line x1="177.85" y1="159.9" x2="177.85" y2="190.0" stroke="#0000ff"/><line x1="180.21" y1="165.2" x2="180.21" y2="201.0" stroke="#0000ff"/><line x1="182.56" y1="187.2" x2="182.56" y2="202.6" stroke="#ff0000"/><line x1="184.92" y1="182.6" x2="184.92" y2="192.6" stroke="#6a6aff"/><line x1="187.27" y1="184.4" x2="187.27" y2="191.9" stroke="#0000ff"/><line x1="189.63" y1="185.5" x2="189.63" y2="192.0" stroke="#ff0000"/><line x1="191.98" y1="171.5" x2="191.98" y2="191.7" stroke="#6a6aff"/><line x1="194.34" y1="183.6" x2="194.34" y2="191.2" stroke="#0000ff"/><line x1="196.69" y1="185.4" x2="196.69" y2="197.8" stroke="#ff0000"/><line x1="199.04" y1="181.9" x2="199.04" y2="187.8" stroke="#ff6a6a"/><line x1="201.4" y1="162.5" x2="201.4" y2="173.7" stroke="#ff0000"/><line x1="203.75" y1="161.8" x2="203.75" y2="171.5" stroke="#ff0000"/><line x1="206.11" y1="149.9" x2="206.11" y2="168.6" stroke="#ff0000"/><line x1="208.46" y1="142.4" x2="208.46" y2="152.8" stroke="#ff0000"/><line x1="210.82" y1="135.8" x2="210.82" y2="145.2" stroke="#0000ff"/><line x1="213.17" y1="139.4" x2="213.17" y2="145.1" stroke="#0000ff"/><line x1="215.53" y1="134.5" x2="215.53" y2="150.9" stroke="#ff0000"/><line x1="217.88" y1="139.6" x2="217.88" y2="147.6" stroke="#0000ff"/><line x1="220.24" y1="141.4" x2="220.24" y2="148.0" stroke="#0000ff"/><line x1="222.59" y1="143.1" x2="222.59" y2="146.4" stroke="#ff0000"/><line x1="224.95" y1="136.1" x2="224.95" y2="149.2" stroke="#ff6a6a"/><line x1="227.3" y1="123.4" x2="227.3" y2="136.9" stroke="#ff0000"/><line x1="229.66" y1="121.1" x2="229.66" y2="131.6" stroke="#0000ff"/><line x1="232.01" y1="127.9" x2="232.01" y2="131.6" stroke="#ff0000"/><line x1="234.37" y1="129.9" x2="234.37" y2="135.6" stroke="#0000ff"/><line x1="236.72" y1="136.0" x2="236.72" y2="144.7" stroke="#0000ff"/><line x1="239.07" y1="140.8" x2="239.07" y2="147.0" stroke="#0000ff"/><line x1="241.43" y1="131.4" x2="241.43" y2="143.6" stroke="#ff0000"/><line x1="243.78" y1="121.9" x2="243.78" y2="131.5" stroke="#ff0000"/><line x1="246.14" y1="124.7" x2="246.14" y2="131.0" stroke="#ff6a6a"/><line x1="248.49" y1="113.7" x2="248.49" y2="124.6" stroke="#ff0000"/><line x1="250.85" y1="106.9" x2="250.85" y2="114.1" stroke="#ff0000"/><line x1="253.2" y1="88.3" x2="253.2" y2="104.4" stroke="#ff0000"/><line x1="255.56" y1="85.1" x2="255.56" y2="97.6" stroke="#ff0000"/><line x1="257.91" y1="88.8" x2="257.91" y2="95.7" stroke="#0000ff"/><line x1="260.27" y1="90.4" x2="260.27" y2="95.4" stroke="#6a6aff"/><line x1="262.62" y1="91.4" x2="262.62" y2="99.5" stroke="#0000ff"/><line x1="264.98" y1="95.0" x2="264.98" y2="103.5" stroke="#6a6aff"/><line x1="267.33" y1="94.1" x2="267.33" y2="97.9" stroke="#ff6a6a"/><line x1="267.33" y1="90.1" x2="267.33" y2="95.1" stroke="#404040"/><line x1="269.69" y1="93.0" x2="269.69" y2="107.2" stroke="#0000ff"/><line x1="272.04" y1="94.2" x2="272.04" y2="107.8" stroke="#ff0000"/><line x1="274.4" y1="96.9" x2="274.4" y2="103.5" stroke="#6a6aff"/><line x1="276.75" y1="89.2" x2="276.75" y2="100.4" stroke="#0000ff"/><line x1="279.1" y1="102.7" x2="279.1" y2="111.4" stroke="#0000ff"/><line x1="281.46" y1="104.3" x2="281.46" y2="113.2" stroke="#0000ff"/><line x1="283.81" y1="109.7" x2="283.81" y2="116.0" stroke="#ff0000"/><line x1="286.17" y1="103.1" x2="286.17" y2="109.7" stroke="#0000ff"/><line x1="288.52" y1="102.7" x2="288.52" y2="109.5" stroke="#0000ff"/><line x1="290.88" y1="98.1" x2="290.88" y2="105.4" stroke="#ff6a6a"/><line x1="293.23" y1="105.1" x2="293.23" y2="118.3" stroke="#0000ff"/><line x1="295.59" y1="115.2" x2="295.59" y2="124.1" stroke="#0000ff"/><line x1="297.94" y1="120.3" x2="297.94" y2="124.3" stroke="#0000ff"/><line x1="300.3" y1="118.8" x2="300.3" y2="128.5" stroke="#ff0000"/><line x1="302.65" y1="118.3" x2="302.65" y2="126.8" stroke="#0000ff"/><line x1="305.01" y1="125.4" x2="305.01" y2="132.9" stroke="#0000ff"/><line x1="307.36" y1="127.4" x2="307.36" y2="131.3" stroke="#6a6aff"/><line x1="309.72" y1="129.7" x2="309.72" y2="137.0" stroke="#0000ff"/><line x1="312.07" y1="128.0" x2="312.07" y2="134.7" stroke="#ff0000"/><line x1="314.43" y1="114.6" x2="314.43" y2="121.0" stroke="#ff0000"/><line x1="316.78" y1="112.7" x2="316.78" y2="118.4" stroke="#0000ff"/><line x1="319.13" y1="114.3" x2="319.13" y2="118.1" stroke="#6a6aff"/><line x1="321.49" y1="115.1" x2="321.49" y2="119.6" stroke="#0000ff"/><line x1="323.84" y1="112.5" x2="323.84" y2="123.2" stroke="#6a6aff"/><line x1="326.2" y1="126.4" x2="326.2" y2="130.5" stroke="#0000ff"/><line x1="328.55" y1="125.8" x2="328.55" y2="132.2" stroke="#ff0000"/><line x1="330.91" y1="124.2" x2="330.91" y2="127.3" stroke="#ff6a6a"/><line x1="333.26" y1="110.3" x2="333.26" y2="119.7" stroke="#ff0000"/><line x1="335.62" y1="102.9" x2="335.62" y2="109.0" stroke="#ff0000"/><line x1="337.97" y1="104.6" x2="337.97" y2="108.6" stroke="#0000ff"/><line x1="340.33" y1="114.5" x2="340.33" y2="131.2" stroke="#0000ff"/><line x1="342.68" y1="129.7" x2="342.68" y2="140.5" stroke="#0000ff"/><line x1="345.04" y1="135.5" x2="345.04" y2="140.6" stroke="#6a6aff"/><line x1="347.39" y1="130.9" x2="347.39" y2="138.2" stroke="#ff0000"/><line x1="349.75" y1="128.0" x2="349.75" y2="135.7" stroke="#6a6aff"/><line x1="352.1" y1="134.4" x2="352.1" y2="142.4" stroke="#0000ff"/><line x1="354.45" y1="132.1" x2="354.45" y2="137.6" stroke="#ff0000"/><line x1="356.81" y1="119.7" x2="356.81" y2="125.8" stroke="#ff0000"/><line x1="359.16" y1="114.7" x2="359.16" y2="119.3" stroke="#ff0000"/><line x1="361.52" y1="107.7" x2="361.52" y2="115.8" stroke="#ff0000"/><line x1="363.87" y1="106.0" x2="363.87" y2="110.6" stroke="#0000ff"/><line x1="366.23" y1="100.2" x2="366.23" y2="105.0" stroke="#ff0000"/><line x1="368.58" y1="97.9" x2="368.58" y2="101.8" stroke="#0000ff"/><line x1="370.94" y1="96.8" x2="370.94" y2="100.6" stroke="#ff0000"/><line x1="373.29" y1="97.0" x2="373.29" y2="105.4" stroke="#ff0000"/><line x1="375.65" y1="92.3" x2="375.65" y2="98.0" stroke="#ff0000"/><line x1="378.0" y1="88.5" x2="378.0" y2="95.9" stroke="#ff0000"/><line x1="380.36" y1="77.5" x2="380.36" y2="86.4" stroke="#ff0000"/><line x1="382.71" y1="75.6" x2="382.71" y2="80.6" stroke="#0000ff"/><line x1="385.07" y1="74.9" x2="385.07" y2="80.5" stroke="#6a6aff"/><line x1="387.42" y1="72.9" x2="387.42" y2="83.5" stroke="#0000ff"/><line x1="389.78" y1="78.6" x2="389.78" y2="89.0" stroke="#0000ff"/><line x1="392.13" y1="77.7" x2="392.13" y2="82.1" stroke="#ff0000"/><line x1="394.48" y1="66.1" x2="394.48" y2="76.4" stroke="#ff0000"/><line x1="396.84" y1="52.2" x2="396.84" y2="61.6" stroke="#ff0000"/><line x1="399.19" y1="53.3" x2="399.19" y2="59.7" stroke="#6a6aff"/><line x1="401.55" y1="51.2" x2="401.55" y2="59.6" stroke="#ff0000"/><line x1="403.9" y1="48.6" x2="403.9" y2="53.7" stroke="#ff0000"/><line x1="406.26" y1="39.2" x2="406.26" y2="45.1" stroke="#ff0000"/><line x1="408.61" y1="29.3" x2="408.61" y2="37.1" stroke="#ff0000"/><line x1="410.97" y1="30.1" x2="410.97" y2="33.2" stroke="#0000ff"/><line x1="413.32" y1="26.7" x2="413.32" y2="30.1" stroke="#ff0000"/><line x1="415.68" y1="23.3" x2="415.68" y2="28.6" stroke="#ff0000"/><line x1="418.03" y1="15.8" x2="418.03" y2="21.3" stroke="#ff0000"/><line x1="420.39" y1="20.3" x2="420.39" y2="25.9" stroke="#0000ff"/><line x1="422.74" y1="29.7" x2="422.74" y2="38.6" stroke="#6a6aff"/><line x1="425.1" y1="42.8" x2="425.1" y2="61.4" stroke="#0000ff"/><line x1="427.45" y1="56.3" x2="427.45" y2="68.5" stroke="#ff0000"/><line x1="429.81" y1="57.8" x2="429.81" y2="63.7" stroke="#ff0000"/><line x1="432.16" y1="59.7" x2="432.16" y2="70.6" stroke="#ff6a6a"/><line x1="434.51" y1="51.7" x2="434.51" y2="59.5" stroke="#6a6aff"/><line x1="436.87" y1="39.9" x2="436.87" y2="53.2" stroke="#ff6a6a"/><line x1="439.22" y1="45.1" x2="439.22" y2="55.3" stroke="#0000ff"/><line x1="441.58" y1="59.4" x2="441.58" y2="68.4" stroke="#0000ff"/><line x1="443.93" y1="48.7" x2="443.93" y2="62.9" stroke="#0000ff"/><line x1="446.29" y1="56.1" x2="446.29" y2="66.4" stroke="#0000ff"/><line x1="448.64" y1="61.3" x2="448.64" y2="70.6" stroke="#0000ff"/><line x1="451.0" y1="64.6" x2="451.0" y2="80.5" stroke="#0000ff"/><line x1="453.35" y1="80.8" x2="453.35" y2="99.6" stroke="#0000ff"/><line x1="455.71" y1="101.3" x2="455.71" y2="112.9" stroke="#0000ff"/><line x1="458.06" y1="114.4" x2="458.06" y2="124.5" stroke="#0000ff"/></g>
<polyline points="0.0,232.0 1.0,232.4 2.0,232.6 3.0,232.8 4.0,232.9 5.0,233.0 6.0,233.0 7.0,232.9 8.0,232.7 9.0,232.4 10.0,232.0 11.0,230.1 12.0,226.4 13.0,222.9 14.0,220.0 15.0,217.0 16.0,213.6 17.0,209.9 18.0,206.9 19.0,204.0 20.0,200.7 21.0,196.9 22.0,192.4 23.0,187.6 24.0,182.5 25.0,177.6 26.0,172.3 27.0,166.6 28.0,160.9 29.0,155.4 30.0,150.3 31.0,146.6 32.0,143.5 33.0,141.5 34.0,140.0 35.0,139.2 36.0,139.5 37.0,140.5 38.0,141.7 39.0,143.4 40.0,145.0 41.0,146.3 42.0,147.3 43.0,147.4 44.0,146.8 45.0,146.0 46.0,145.1 47.0,144.1 48.0,143.5 49.0,143.2 50.0,143.0 51.0,143.5 52.0,144.5 53.0,145.5 54.0,146.6 55.0,147.5 56.0,148.2 57.0,148.7 58.0,148.6 59.0,147.6 60.0,147.0 61.0,147.0 62.0,147.0 63.0,147.1 64.0,147.9 65.0,148.8 66.0,149.6 67.0,150.3 68.0,150.8 69.0,151.1 70.0,151.2 71.0,151.2 72.0,151.2 73.0,151.2 74.0,151.0 75.0,150.6 76.0,149.4 77.0,147.8 78.0,148.0 79.0,151.3 80.0,155.9 81.0,159.8 82.0,162.6 83.0,165.2 84.0,167.5 85.0,169.4 86.0,171.2 87.0,172.8 88.0,173.8 89.0,174.5 90.0,175.1 91.0,175.5 92.0,175.4 93.0,174.9 94.0,173.7 95.0,171.4 96.0,168.4 97.0,164.4 98.0,160.2 99.0,156.9 100.0,154.8 101.0,153.2 102.0,151.6 103.0,149.9 104.0,148.1 105.0,146.4 106.0,144.6 107.0,142.9 108.0,141.2 109.0,139.4 110.0,137.6 111.0,135.5 112.0,132.8 113.0,132.2 114.0,133.5 115.0,135.0 116.0,136.6 117.0,138.3 118.0,139.7 119.0,140.9 120.0,142.0 121.0,143.0 122.0,143.8 123.0,144.1 124.0,144.3 125.0,144.4 126.0,144.2 127.0,143.9 128.0,143.6 129.0,143.2 130.0,143.0 131.0,143.3 132.0,143.7 133.0,143.7 134.0,143.1 135.0,142.5 136.0,141.8 137.0,141.1 138.0,141.1 139.0,141.4 140.0,142.0 141.0,143.2 142.0,145.1 143.0,147.0 144.0,149.1 145.0,151.0 146.0,152.3 147.0,153.5 148.0,154.5 149.0,155.6 150.0,156.5 151.0,157.3 152.0,158.1 153.0,158.8 154.0,159.0 155.0,159.0 156.0,158.9 157.0,158.9 158.0,158.8 159.0,158.6 160.0,158.5 161.0,158.1 162.0,157.3 163.0,156.2 164.0,155.0 165.0,153.4 166.0,151.4 167.0,150.0 168.0,149.3 169.0,148.7 170.0,148.5 171.0,148.6 172.0,148.8 173.0,149.1 174.0,149.5 175.0,150.2 176.0,151.5 177.0,155.0 178.0,158.3 179.0,164.9 180.0,172.5 181.0,175.2 182.0,177.0 183.0,178.8 184.0,180.3 185.0,181.4 186.0,182.2 187.0,182.8 188.0,183.3 189.0,183.8 190.0,184.3 191.0,184.6 192.0,184.8 193.0,184.8 194.0,184.8 195.0,184.8 196.0,184.7 197.0,184.1 198.0,183.3 199.0,181.8 200.0,180.0 201.0,178.1 202.0,175.8 203.0,173.1 204.0,170.1 205.0,167.6 206.0,165.4 207.0,162.2 208.0,156.9 209.0,154.2 210.0,152.4 211.0,150.8 212.0,149.0 213.0,147.4 214.0,146.4 215.0,145.8 216.0,145.4 217.0,145.2 218.0,145.1 219.0,145.0 220.0,144.9 221.0,144.8 222.0,144.6 223.0,144.3 224.0,143.7 225.0,143.0 226.0,141.9 227.0,140.5 228.0,139.0 229.0,137.4 230.0,135.9 231.0,134.8 232.0,134.0 233.0,133.6 234.0,133.8 235.0,134.3 236.0,135.9 237.0,137.7 238.0,138.7 239.0,139.5 240.0,139.8 241.0,139.6 242.0,139.3 243.0,138.8 244.0,138.2 245.0,137.4 246.0,136.3 247.0,134.8 248.0,132.9 249.0,130.6 250.0,127.7 251.0,124.6 252.0,121.3 253.0,117.5 254.0,112.9 255.0,107.5 256.0,104.0 257.0,101.4 258.0,100.1 259.0,99.3 260.0,98.8 261.0,98.2 262.0,97.7 263.0,97.3 264.0,97.0 265.0,96.9 266.0,97.0 267.0,97.3 268.0,98.0 269.0,99.6 270.0,100.6 271.0,100.6 272.0,100.6 273.0,100.6 274.0,100.3 275.0,100.0 276.0,99.7 277.0,99.4 278.0,99.6 279.0,101.2 280.0,103.0 281.0,105.1 282.0,107.0 283.0,107.7 284.0,107.9 285.0,108.0 286.0,107.8 287.0,107.6 288.0,107.6 289.0,108.0 290.0,108.8 291.0,110.5 292.0,112.9 293.0,114.2 294.0,115.0 295.0,115.9 296.0,116.8 297.0,117.7 298.0,118.5 299.0,119.3 300.0,120.0 301.0,120.7 302.0,121.5 303.0,122.3 304.0,123.2 305.0,124.2 306.0,125.0 307.0,125.9 308.0,126.7 309.0,127.5 310.0,128.0 311.0,128.3 312.0,128.5 313.0,127.7 314.0,126.1 315.0,124.5 316.0,123.0 317.0,121.6 318.0,121.0 319.0,121.3 320.0,120.9 321.0,120.4 322.0,120.3 323.0,120.9 324.0,121.6 325.0,122.0 326.0,121.9 327.0,121.7 328.0,121.5 329.0,121.3 330.0,121.1 331.0,120.8 332.0,120.3 333.0,118.5 334.0,116.4 335.0,115.0 336.0,113.7 337.0,112.8 338.0,112.4 339.0,113.0 340.0,114.7 341.0,119.4 342.0,123.0 343.0,125.4 344.0,126.2 345.0,126.7 346.0,127.2 347.0,128.2 348.0,129.9 349.0,131.2 350.0,131.8 351.0,132.3 352.0,132.5 353.0,132.3 354.0,131.7 355.0,130.9 356.0,130.0 357.0,128.6 358.0,126.5 359.0,124.1 360.0,122.0 361.0,120.2 362.0,118.4 363.0,116.5 364.0,114.5 365.0,112.5 366.0,110.6 367.0,108.8 368.0,107.3 369.0,106.1 370.0,105.0 371.0,104.2 372.0,103.4 373.0,102.5 374.0,101.3 375.0,99.7 376.0,98.0 377.0,95.8 378.0,93.1 379.0,90.5 380.0,88.5 381.0,86.5 382.0,84.6 383.0,83.0 384.0,82.1 385.0,82.0 386.0,82.0 387.0,82.0 388.0,82.0 389.0,82.0 390.0,81.9 391.0,81.8 392.0,81.5 393.0,80.3 394.0,77.9 395.0,75.5 396.0,73.2 397.0,70.8 398.0,68.3 399.0,66.0 400.0,64.1 401.0,62.4 402.0,60.9 403.0,59.3 404.0,57.5 405.0,55.1 406.0,52.5 407.0,50.0 408.0,47.9 409.0,46.0 410.0,44.0 411.0,42.0 412.0,39.9 413.0,37.9 414.0,36.0 415.0,34.2 416.0,32.4 417.0,30.6 418.0,29.0 419.0,27.1 420.0,26.0 421.0,27.4 422.0,30.0 423.0,32.7 424.0,36.0 425.0,40.6 426.0,45.7 427.0,49.0 428.0,50.4 429.0,51.3 430.0,52.0 431.0,52.6 432.0,53.2 433.0,53.6 434.0,53.8 435.0,53.7 436.0,53.4 437.0,53.1 438.0,53.0 439.0,53.3 440.0,53.9 441.0,54.8 442.0,55.6 443.0,56.4 444.0,57.2 445.0,58.2 446.0,59.7 447.0,62.1 448.0,65.0 449.0,68.3 450.0,72.0 451.0,75.9 452.0,80.0 453.0,84.5 454.0,89.0 455.0,93.2 456.0,97.2 457.0,101.0" fill="none" stroke="#0000ff" stroke-width="1.45" stroke-linejoin="round" />
<ellipse cx="452.2" cy="72.3" rx="16.9" ry="30.3" fill="rgb(70,70,245)" fill-opacity="0.4"/>
<g stroke-width="0.8"><line x1="2.25" y1="332" x2="2.25" y2="338.8" stroke="#d0d0ff"/><line x1="4.60" y1="332" x2="4.60" y2="342.5" stroke="#d0d0ff"/><line x1="6.96" y1="332" x2="6.96" y2="342.5" stroke="#d0d0ff"/><line x1="9.31" y1="332" x2="9.31" y2="341.4" stroke="#d0d0ff"/><line x1="11.67" y1="332" x2="11.67" y2="338.6" stroke="#d0d0ff"/><line x1="14.02" y1="332" x2="14.02" y2="331.9" stroke="#ffd0d0"/><line x1="16.38" y1="332" x2="16.38" y2="327.7" stroke="#ffd0d0"/><line x1="18.73" y1="332" x2="18.73" y2="318.1" stroke="#ffd0d0"/><line x1="21.09" y1="332" x2="21.09" y2="312.2" stroke="#ffd0d0"/><line x1="23.44" y1="332" x2="23.44" y2="303.9" stroke="#ffd0d0"/><line x1="25.80" y1="332" x2="25.80" y2="301.2" stroke="#ffd0d0"/><line x1="28.15" y1="332" x2="28.15" y2="298.1" stroke="#ffd0d0"/><line x1="30.51" y1="332" x2="30.51" y2="290.0" stroke="#ffd0d0"/><line x1="32.86" y1="332" x2="32.86" y2="286.5" stroke="#ffd0d0"/><line x1="35.22" y1="332" x2="35.22" y2="288.9" stroke="#ffd0d0"/><line x1="37.57" y1="332" x2="37.57" y2="296.6" stroke="#ffd0d0"/><line x1="39.93" y1="332" x2="39.93" y2="310.5" stroke="#ffd0d0"/><line x1="42.28" y1="332" x2="42.28" y2="323.9" stroke="#ffd0d0"/><line x1="44.63" y1="332" x2="44.63" y2="328.4" stroke="#ffd0d0"/><line x1="46.99" y1="332" x2="46.99" y2="329.4" stroke="#ffd0d0"/><line x1="49.34" y1="332" x2="49.34" y2="331.7" stroke="#ffd0d0"/><line x1="51.70" y1="332" x2="51.70" y2="339.6" stroke="#d0d0ff"/><line x1="54.05" y1="332" x2="54.05" y2="346.9" stroke="#d0d0ff"/><line x1="56.41" y1="332" x2="56.41" y2="352.4" stroke="#d0d0ff"/><line x1="58.76" y1="332" x2="58.76" y2="349.9" stroke="#d0d0ff"/><line x1="61.12" y1="332" x2="61.12" y2="348.9" stroke="#d0d0ff"/><line x1="63.47" y1="332" x2="63.47" y2="347.5" stroke="#d0d0ff"/><line x1="65.83" y1="332" x2="65.83" y2="349.8" stroke="#d0d0ff"/><line x1="68.18" y1="332" x2="68.18" y2="352.4" stroke="#d0d0ff"/><line x1="70.54" y1="332" x2="70.54" y2="351.3" stroke="#d0d0ff"/><line x1="72.89" y1="332" x2="72.89" y2="349.6" stroke="#d0d0ff"/><line x1="75.25" y1="332" x2="75.25" y2="346.5" stroke="#d0d0ff"/><line x1="77.60" y1="332" x2="77.60" y2="346.7" stroke="#d0d0ff"/><line x1="79.96" y1="332" x2="79.96" y2="350.7" stroke="#d0d0ff"/><line x1="82.31" y1="332" x2="82.31" y2="357.4" stroke="#d0d0ff"/><line x1="84.66" y1="332" x2="84.66" y2="361.6" stroke="#d0d0ff"/><line x1="87.02" y1="332" x2="87.02" y2="362.5" stroke="#d0d0ff"/><line x1="89.37" y1="332" x2="89.37" y2="362.5" stroke="#d0d0ff"/><line x1="91.73" y1="332" x2="91.73" y2="362.4" stroke="#d0d0ff"/><line x1="94.08" y1="332" x2="94.08" y2="359.1" stroke="#d0d0ff"/><line x1="96.44" y1="332" x2="96.44" y2="344.0" stroke="#d0d0ff"/><line x1="98.79" y1="332" x2="98.79" y2="334.7" stroke="#d0d0ff"/><line x1="101.15" y1="332" x2="101.15" y2="324.6" stroke="#ffd0d0"/><line x1="103.50" y1="332" x2="103.50" y2="320.0" stroke="#ffd0d0"/><line x1="105.86" y1="332" x2="105.86" y2="317.6" stroke="#ffd0d0"/><line x1="108.21" y1="332" x2="108.21" y2="315.2" stroke="#ffd0d0"/><line x1="110.57" y1="332" x2="110.57" y2="314.2" stroke="#ffd0d0"/><line x1="112.92" y1="332" x2="112.92" y2="311.3" stroke="#ffd0d0"/><line x1="115.28" y1="332" x2="115.28" y2="315.4" stroke="#ffd0d0"/><line x1="117.63" y1="332" x2="117.63" y2="320.5" stroke="#ffd0d0"/><line x1="119.98" y1="332" x2="119.98" y2="329.8" stroke="#ffd0d0"/><line x1="122.34" y1="332" x2="122.34" y2="336.0" stroke="#d0d0ff"/><line x1="124.69" y1="332" x2="124.69" y2="336.0" stroke="#d0d0ff"/><line x1="127.05" y1="332" x2="127.05" y2="337.5" stroke="#d0d0ff"/><line x1="129.40" y1="332" x2="129.40" y2="337.5" stroke="#d0d0ff"/><line x1="131.76" y1="332" x2="131.76" y2="336.3" stroke="#d0d0ff"/><line x1="134.11" y1="332" x2="134.11" y2="335.2" stroke="#d0d0ff"/><line x1="136.47" y1="332" x2="136.47" y2="334.2" stroke="#d0d0ff"/><line x1="138.82" y1="332" x2="138.82" y2="334.0" stroke="#d0d0ff"/><line x1="141.18" y1="332" x2="141.18" y2="335.5" stroke="#d0d0ff"/><line x1="143.53" y1="332" x2="143.53" y2="340.0" stroke="#d0d0ff"/><line x1="145.89" y1="332" x2="145.89" y2="345.0" stroke="#d0d0ff"/><line x1="148.24" y1="332" x2="148.24" y2="348.8" stroke="#d0d0ff"/><line x1="150.60" y1="332" x2="150.60" y2="345.3" stroke="#d0d0ff"/><line x1="152.95" y1="332" x2="152.95" y2="344.8" stroke="#d0d0ff"/><line x1="155.31" y1="332" x2="155.31" y2="343.3" stroke="#d0d0ff"/><line x1="157.66" y1="332" x2="157.66" y2="340.8" stroke="#d0d0ff"/><line x1="160.01" y1="332" x2="160.01" y2="338.7" stroke="#d0d0ff"/><line x1="162.37" y1="332" x2="162.37" y2="337.5" stroke="#d0d0ff"/><line x1="164.72" y1="332" x2="164.72" y2="335.6" stroke="#d0d0ff"/><line x1="167.08" y1="332" x2="167.08" y2="331.9" stroke="#ffd0d0"/><line x1="169.43" y1="332" x2="169.43" y2="329.3" stroke="#ffd0d0"/><line x1="171.79" y1="332" x2="171.79" y2="327.7" stroke="#ffd0d0"/><line x1="174.14" y1="332" x2="174.14" y2="326.4" stroke="#ffd0d0"/><line x1="176.50" y1="332" x2="176.50" y2="328.4" stroke="#ffd0d0"/><line x1="178.85" y1="332" x2="178.85" y2="336.2" stroke="#d0d0ff"/><line x1="181.21" y1="332" x2="181.21" y2="345.0" stroke="#d0d0ff"/><line x1="183.56" y1="332" x2="183.56" y2="349.1" stroke="#d0d0ff"/><line x1="185.92" y1="332" x2="185.92" y2="350.6" stroke="#d0d0ff"/><line x1="188.27" y1="332" x2="188.27" y2="350.8" stroke="#d0d0ff"/><line x1="190.63" y1="332" x2="190.63" y2="349.3" stroke="#d0d0ff"/><line x1="192.98" y1="332" x2="192.98" y2="346.5" stroke="#d0d0ff"/><line x1="195.34" y1="332" x2="195.34" y2="342.9" stroke="#d0d0ff"/><line x1="197.69" y1="332" x2="197.69" y2="339.3" stroke="#d0d0ff"/><line x1="200.04" y1="332" x2="200.04" y2="335.5" stroke="#d0d0ff"/><line x1="202.40" y1="332" x2="202.40" y2="331.5" stroke="#ffd0d0"/><line x1="204.75" y1="332" x2="204.75" y2="328.7" stroke="#ffd0d0"/><line x1="207.11" y1="332" x2="207.11" y2="318.1" stroke="#ffd0d0"/><line x1="209.46" y1="332" x2="209.46" y2="309.3" stroke="#ffd0d0"/><line x1="211.82" y1="332" x2="211.82" y2="306.4" stroke="#ffd0d0"/><line x1="214.17" y1="332" x2="214.17" y2="306.2" stroke="#ffd0d0"/><line x1="216.53" y1="332" x2="216.53" y2="307.0" stroke="#ffd0d0"/><line x1="218.88" y1="332" x2="218.88" y2="309.8" stroke="#ffd0d0"/><line x1="221.24" y1="332" x2="221.24" y2="313.6" stroke="#ffd0d0"/><line x1="223.59" y1="332" x2="223.59" y2="316.7" stroke="#ffd0d0"/><line x1="225.95" y1="332" x2="225.95" y2="315.7" stroke="#ffd0d0"/><line x1="228.30" y1="332" x2="228.30" y2="314.1" stroke="#ffd0d0"/><line x1="230.66" y1="332" x2="230.66" y2="315.4" stroke="#ffd0d0"/><line x1="233.01" y1="332" x2="233.01" y2="317.1" stroke="#ffd0d0"/><line x1="235.37" y1="332" x2="235.37" y2="321.4" stroke="#ffd0d0"/><line x1="237.72" y1="332" x2="237.72" y2="327.2" stroke="#ffd0d0"/><line x1="240.07" y1="332" x2="240.07" y2="330.0" stroke="#ffd0d0"/><line x1="242.43" y1="332" x2="242.43" y2="330.0" stroke="#ffd0d0"/><line x1="244.78" y1="332" x2="244.78" y2="328.7" stroke="#ffd0d0"/><line x1="247.14" y1="332" x2="247.14" y2="326.4" stroke="#ffd0d0"/><line x1="249.49" y1="332" x2="249.49" y2="323.0" stroke="#ffd0d0"/><line x1="251.85" y1="332" x2="251.85" y2="317.2" stroke="#ffd0d0"/><line x1="254.20" y1="332" x2="254.20" y2="311.9" stroke="#ffd0d0"/><line x1="256.56" y1="332" x2="256.56" y2="310.1" stroke="#ffd0d0"/><line x1="258.91" y1="332" x2="258.91" y2="311.4" stroke="#ffd0d0"/><line x1="261.27" y1="332" x2="261.27" y2="315.6" stroke="#ffd0d0"/><line x1="263.62" y1="332" x2="263.62" y2="318.9" stroke="#ffd0d0"/><line x1="265.98" y1="332" x2="265.98" y2="322.3" stroke="#ffd0d0"/><line x1="268.33" y1="332" x2="268.33" y2="326.6" stroke="#ffd0d0"/><line x1="270.69" y1="332" x2="270.69" y2="330.8" stroke="#ffd0d0"/><line x1="273.04" y1="332" x2="273.04" y2="334.2" stroke="#d0d0ff"/><line x1="275.40" y1="332" x2="275.40" y2="335.5" stroke="#d0d0ff"/><line x1="277.75" y1="332" x2="277.75" y2="338.2" stroke="#d0d0ff"/><line x1="280.10" y1="332" x2="280.10" y2="341.8" stroke="#d0d0ff"/><line x1="282.46" y1="332" x2="282.46" y2="345.2" stroke="#d0d0ff"/><line x1="284.81" y1="332" x2="284.81" y2="346.2" stroke="#d0d0ff"/><line x1="287.17" y1="332" x2="287.17" y2="346.2" stroke="#d0d0ff"/><line x1="289.52" y1="332" x2="289.52" y2="346.2" stroke="#d0d0ff"/><line x1="291.88" y1="332" x2="291.88" y2="347.2" stroke="#d0d0ff"/><line x1="294.23" y1="332" x2="294.23" y2="349.5" stroke="#d0d0ff"/><line x1="296.59" y1="332" x2="296.59" y2="352.0" stroke="#d0d0ff"/><line x1="298.94" y1="332" x2="298.94" y2="353.6" stroke="#d0d0ff"/><line x1="301.30" y1="332" x2="301.30" y2="341.4" stroke="#d0d0ff"/><line x1="303.65" y1="332" x2="303.65" y2="347.7" stroke="#d0d0ff"/><line x1="306.01" y1="332" x2="306.01" y2="350.0" stroke="#d0d0ff"/><line x1="308.36" y1="332" x2="308.36" y2="351.2" stroke="#d0d0ff"/><line x1="310.72" y1="332" x2="310.72" y2="350.2" stroke="#d0d0ff"/><line x1="313.07" y1="332" x2="313.07" y2="344.2" stroke="#d0d0ff"/><line x1="315.43" y1="332" x2="315.43" y2="335.4" stroke="#d0d0ff"/><line x1="317.78" y1="332" x2="317.78" y2="334.5" stroke="#d0d0ff"/><line x1="320.13" y1="332" x2="320.13" y2="334.9" stroke="#d0d0ff"/><line x1="322.49" y1="332" x2="322.49" y2="334.9" stroke="#d0d0ff"/><line x1="324.84" y1="332" x2="324.84" y2="334.7" stroke="#d0d0ff"/><line x1="327.20" y1="332" x2="327.20" y2="334.3" stroke="#d0d0ff"/><line x1="329.55" y1="332" x2="329.55" y2="333.7" stroke="#d0d0ff"/><line x1="331.91" y1="332" x2="331.91" y2="331.9" stroke="#ffd0d0"/><line x1="334.26" y1="332" x2="334.26" y2="327.5" stroke="#ffd0d0"/><line x1="336.62" y1="332" x2="336.62" y2="324.5" stroke="#ffd0d0"/><line x1="338.97" y1="332" x2="338.97" y2="324.0" stroke="#ffd0d0"/><line x1="341.33" y1="332" x2="341.33" y2="329.6" stroke="#ffd0d0"/><line x1="343.68" y1="332" x2="343.68" y2="336.5" stroke="#d0d0ff"/><line x1="346.04" y1="332" x2="346.04" y2="338.8" stroke="#d0d0ff"/><line x1="348.39" y1="332" x2="348.39" y2="340.0" stroke="#d0d0ff"/><line x1="350.75" y1="332" x2="350.75" y2="338.9" stroke="#d0d0ff"/><line x1="353.10" y1="332" x2="353.10" y2="337.7" stroke="#d0d0ff"/><line x1="355.45" y1="332" x2="355.45" y2="336.6" stroke="#d0d0ff"/><line x1="357.81" y1="332" x2="357.81" y2="334.7" stroke="#d0d0ff"/><line x1="360.16" y1="332" x2="360.16" y2="328.7" stroke="#ffd0d0"/><line x1="362.52" y1="332" x2="362.52" y2="322.0" stroke="#ffd0d0"/><line x1="364.87" y1="332" x2="364.87" y2="318.6" stroke="#ffd0d0"/><line x1="367.23" y1="332" x2="367.23" y2="316.3" stroke="#ffd0d0"/><line x1="369.58" y1="332" x2="369.58" y2="316.2" stroke="#ffd0d0"/><line x1="371.94" y1="332" x2="371.94" y2="317.0" stroke="#ffd0d0"/><line x1="374.29" y1="332" x2="374.29" y2="316.4" stroke="#ffd0d0"/><line x1="376.65" y1="332" x2="376.65" y2="315.4" stroke="#ffd0d0"/><line x1="379.00" y1="332" x2="379.00" y2="313.2" stroke="#ffd0d0"/><line x1="381.36" y1="332" x2="381.36" y2="311.5" stroke="#ffd0d0"/><line x1="383.71" y1="332" x2="383.71" y2="311.2" stroke="#ffd0d0"/><line x1="386.07" y1="332" x2="386.07" y2="312.7" stroke="#ffd0d0"/><line x1="388.42" y1="332" x2="388.42" y2="317.5" stroke="#ffd0d0"/><line x1="390.78" y1="332" x2="390.78" y2="321.1" stroke="#ffd0d0"/><line x1="393.13" y1="332" x2="393.13" y2="321.3" stroke="#ffd0d0"/><line x1="395.48" y1="332" x2="395.48" y2="318.1" stroke="#ffd0d0"/><line x1="397.84" y1="332" x2="397.84" y2="317.1" stroke="#ffd0d0"/><line x1="400.19" y1="332" x2="400.19" y2="317.5" stroke="#ffd0d0"/><line x1="402.55" y1="332" x2="402.55" y2="316.8" stroke="#ffd0d0"/><line x1="404.90" y1="332" x2="404.90" y2="315.7" stroke="#ffd0d0"/><line x1="407.26" y1="332" x2="407.26" y2="313.9" stroke="#ffd0d0"/><line x1="409.61" y1="332" x2="409.61" y2="312.8" stroke="#ffd0d0"/><line x1="411.97" y1="332" x2="411.97" y2="313.4" stroke="#ffd0d0"/><line x1="414.32" y1="332" x2="414.32" y2="314.1" stroke="#ffd0d0"/><line x1="416.68" y1="332" x2="416.68" y2="314.7" stroke="#ffd0d0"/><line x1="419.03" y1="332" x2="419.03" y2="315.2" stroke="#ffd0d0"/><line x1="421.39" y1="332" x2="421.39" y2="319.7" stroke="#ffd0d0"/><line x1="423.74" y1="332" x2="423.74" y2="331.4" stroke="#ffd0d0"/><line x1="426.10" y1="332" x2="426.10" y2="343.0" stroke="#d0d0ff"/><line x1="428.45" y1="332" x2="428.45" y2="352.9" stroke="#d0d0ff"/><line x1="430.81" y1="332" x2="430.81" y2="355.8" stroke="#d0d0ff"/><line x1="433.16" y1="332" x2="433.16" y2="356.2" stroke="#d0d0ff"/><line x1="435.51" y1="332" x2="435.51" y2="353.6" stroke="#d0d0ff"/><line x1="437.87" y1="332" x2="437.87" y2="350.6" stroke="#d0d0ff"/><line x1="440.22" y1="332" x2="440.22" y2="352.7" stroke="#d0d0ff"/><line x1="442.58" y1="332" x2="442.58" y2="356.2" stroke="#d0d0ff"/><line x1="444.93" y1="332" x2="444.93" y2="353.0" stroke="#d0d0ff"/><line x1="447.29" y1="332" x2="447.29" y2="354.4" stroke="#d0d0ff"/><line x1="449.64" y1="332" x2="449.64" y2="355.7" stroke="#d0d0ff"/><line x1="452.00" y1="332" x2="452.00" y2="359.4" stroke="#d0d0ff"/><line x1="454.35" y1="332" x2="454.35" y2="365.8" stroke="#d0d0ff"/><line x1="456.71" y1="332" x2="456.71" y2="373.2" stroke="#d0d0ff"/><line x1="459.06" y1="332" x2="459.06" y2="376.2" stroke="#d0d0ff"/></g>
<g stroke-width="1.1"><line x1="1.25" y1="332" x2="1.25" y2="338.8" stroke="#5c5cff"/><line x1="3.6" y1="332" x2="3.6" y2="342.5" stroke="#5c5cff"/><line x1="5.96" y1="332" x2="5.96" y2="342.5" stroke="#5c5cff"/><line x1="8.31" y1="332" x2="8.31" y2="341.4" stroke="#5c5cff"/><line x1="10.67" y1="332" x2="10.67" y2="338.6" stroke="#5c5cff"/><line x1="13.02" y1="332" x2="13.02" y2="331.9" stroke="#ff5c5c"/><line x1="15.38" y1="332" x2="15.38" y2="327.7" stroke="#ff5c5c"/><line x1="17.73" y1="332" x2="17.73" y2="318.1" stroke="#ff5c5c"/><line x1="20.09" y1="332" x2="20.09" y2="312.2" stroke="#ff5c5c"/><line x1="22.44" y1="332" x2="22.44" y2="303.9" stroke="#ff5c5c"/><line x1="24.8" y1="332" x2="24.8" y2="301.2" stroke="#ff5c5c"/><line x1="27.15" y1="332" x2="27.15" y2="298.1" stroke="#ff5c5c"/><line x1="29.51" y1="332" x2="29.51" y2="290.0" stroke="#ff5c5c"/><line x1="31.86" y1="332" x2="31.86" y2="286.5" stroke="#ff5c5c"/><line x1="34.22" y1="332" x2="34.22" y2="288.9" stroke="#ff5c5c"/><line x1="36.57" y1="332" x2="36.57" y2="296.6" stroke="#ff5c5c"/><line x1="38.93" y1="332" x2="38.93" y2="310.5" stroke="#ff5c5c"/><line x1="41.28" y1="332" x2="41.28" y2="323.9" stroke="#ff5c5c"/><line x1="43.63" y1="332" x2="43.63" y2="328.4" stroke="#ff5c5c"/><line x1="45.99" y1="332" x2="45.99" y2="329.4" stroke="#ff5c5c"/><line x1="48.34" y1="332" x2="48.34" y2="331.7" stroke="#ff5c5c"/><line x1="50.7" y1="332" x2="50.7" y2="339.6" stroke="#5c5cff"/><line x1="53.05" y1="332" x2="53.05" y2="346.9" stroke="#5c5cff"/><line x1="55.41" y1="332" x2="55.41" y2="352.4" stroke="#5c5cff"/><line x1="57.76" y1="332" x2="57.76" y2="349.9" stroke="#5c5cff"/><line x1="60.12" y1="332" x2="60.12" y2="348.9" stroke="#5c5cff"/><line x1="62.47" y1="332" x2="62.47" y2="347.5" stroke="#5c5cff"/><line x1="64.83" y1="332" x2="64.83" y2="349.8" stroke="#5c5cff"/><line x1="67.18" y1="332" x2="67.18" y2="352.4" stroke="#5c5cff"/><line x1="69.54" y1="332" x2="69.54" y2="351.3" stroke="#5c5cff"/><line x1="71.89" y1="332" x2="71.89" y2="349.6" stroke="#5c5cff"/><line x1="74.25" y1="332" x2="74.25" y2="346.5" stroke="#5c5cff"/><line x1="76.6" y1="332" x2="76.6" y2="346.7" stroke="#5c5cff"/><line x1="78.96" y1="332" x2="78.96" y2="350.7" stroke="#5c5cff"/><line x1="81.31" y1="332" x2="81.31" y2="357.4" stroke="#5c5cff"/><line x1="83.66" y1="332" x2="83.66" y2="361.6" stroke="#5c5cff"/><line x1="86.02" y1="332" x2="86.02" y2="362.5" stroke="#5c5cff"/><line x1="88.37" y1="332" x2="88.37" y2="362.5" stroke="#5c5cff"/><line x1="90.73" y1="332" x2="90.73" y2="362.4" stroke="#5c5cff"/><line x1="93.08" y1="332" x2="93.08" y2="359.1" stroke="#5c5cff"/><line x1="95.44" y1="332" x2="95.44" y2="344.0" stroke="#5c5cff"/><line x1="97.79" y1="332" x2="97.79" y2="334.7" stroke="#5c5cff"/><line x1="100.15" y1="332" x2="100.15" y2="324.6" stroke="#ff5c5c"/><line x1="102.5" y1="332" x2="102.5" y2="320.0" stroke="#ff5c5c"/><line x1="104.86" y1="332" x2="104.86" y2="317.6" stroke="#ff5c5c"/><line x1="107.21" y1="332" x2="107.21" y2="315.2" stroke="#ff5c5c"/><line x1="109.57" y1="332" x2="109.57" y2="314.2" stroke="#ff5c5c"/><line x1="111.92" y1="332" x2="111.92" y2="311.3" stroke="#ff5c5c"/><line x1="114.28" y1="332" x2="114.28" y2="315.4" stroke="#ff5c5c"/><line x1="116.63" y1="332" x2="116.63" y2="320.5" stroke="#ff5c5c"/><line x1="118.98" y1="332" x2="118.98" y2="329.8" stroke="#ff5c5c"/><line x1="121.34" y1="332" x2="121.34" y2="336.0" stroke="#5c5cff"/><line x1="123.69" y1="332" x2="123.69" y2="336.0" stroke="#5c5cff"/><line x1="126.05" y1="332" x2="126.05" y2="337.5" stroke="#5c5cff"/><line x1="128.4" y1="332" x2="128.4" y2="337.5" stroke="#5c5cff"/><line x1="130.76" y1="332" x2="130.76" y2="336.3" stroke="#5c5cff"/><line x1="133.11" y1="332" x2="133.11" y2="335.2" stroke="#5c5cff"/><line x1="135.47" y1="332" x2="135.47" y2="334.2" stroke="#5c5cff"/><line x1="137.82" y1="332" x2="137.82" y2="334.0" stroke="#5c5cff"/><line x1="140.18" y1="332" x2="140.18" y2="335.5" stroke="#5c5cff"/><line x1="142.53" y1="332" x2="142.53" y2="340.0" stroke="#5c5cff"/><line x1="144.89" y1="332" x2="144.89" y2="345.0" stroke="#5c5cff"/><line x1="147.24" y1="332" x2="147.24" y2="348.8" stroke="#5c5cff"/><line x1="149.6" y1="332" x2="149.6" y2="345.3" stroke="#5c5cff"/><line x1="151.95" y1="332" x2="151.95" y2="344.8" stroke="#5c5cff"/><line x1="154.31" y1="332" x2="154.31" y2="343.3" stroke="#5c5cff"/><line x1="156.66" y1="332" x2="156.66" y2="340.8" stroke="#5c5cff"/><line x1="159.01" y1="332" x2="159.01" y2="338.7" stroke="#5c5cff"/><line x1="161.37" y1="332" x2="161.37" y2="337.5" stroke="#5c5cff"/><line x1="163.72" y1="332" x2="163.72" y2="335.6" stroke="#5c5cff"/><line x1="166.08" y1="332" x2="166.08" y2="331.9" stroke="#ff5c5c"/><line x1="168.43" y1="332" x2="168.43" y2="329.3" stroke="#ff5c5c"/><line x1="170.79" y1="332" x2="170.79" y2="327.7" stroke="#ff5c5c"/><line x1="173.14" y1="332" x2="173.14" y2="326.4" stroke="#ff5c5c"/><line x1="175.5" y1="332" x2="175.5" y2="328.4" stroke="#ff5c5c"/><line x1="177.85" y1="332" x2="177.85" y2="336.2" stroke="#5c5cff"/><line x1="180.21" y1="332" x2="180.21" y2="345.0" stroke="#5c5cff"/><line x1="182.56" y1="332" x2="182.56" y2="349.1" stroke="#5c5cff"/><line x1="184.92" y1="332" x2="184.92" y2="350.6" stroke="#5c5cff"/><line x1="187.27" y1="332" x2="187.27" y2="350.8" stroke="#5c5cff"/><line x1="189.63" y1="332" x2="189.63" y2="349.3" stroke="#5c5cff"/><line x1="191.98" y1="332" x2="191.98" y2="346.5" stroke="#5c5cff"/><line x1="194.34" y1="332" x2="194.34" y2="342.9" stroke="#5c5cff"/><line x1="196.69" y1="332" x2="196.69" y2="339.3" stroke="#5c5cff"/><line x1="199.04" y1="332" x2="199.04" y2="335.5" stroke="#5c5cff"/><line x1="201.4" y1="332" x2="201.4" y2="331.5" stroke="#ff5c5c"/><line x1="203.75" y1="332" x2="203.75" y2="328.7" stroke="#ff5c5c"/><line x1="206.11" y1="332" x2="206.11" y2="318.1" stroke="#ff5c5c"/><line x1="208.46" y1="332" x2="208.46" y2="309.3" stroke="#ff5c5c"/><line x1="210.82" y1="332" x2="210.82" y2="306.4" stroke="#ff5c5c"/><line x1="213.17" y1="332" x2="213.17" y2="306.2" stroke="#ff5c5c"/><line x1="215.53" y1="332" x2="215.53" y2="307.0" stroke="#ff5c5c"/><line x1="217.88" y1="332" x2="217.88" y2="309.8" stroke="#ff5c5c"/><line x1="220.24" y1="332" x2="220.24" y2="313.6" stroke="#ff5c5c"/><line x1="222.59" y1="332" x2="222.59" y2="316.7" stroke="#ff5c5c"/><line x1="224.95" y1="332" x2="224.95" y2="315.7" stroke="#ff5c5c"/><line x1="227.3" y1="332" x2="227.3" y2="314.1" stroke="#ff5c5c"/><line x1="229.66" y1="332" x2="229.66" y2="315.4" stroke="#ff5c5c"/><line x1="232.01" y1="332" x2="232.01" y2="317.1" stroke="#ff5c5c"/><line x1="234.37" y1="332" x2="234.37" y2="321.4" stroke="#ff5c5c"/><line x1="236.72" y1="332" x2="236.72" y2="327.2" stroke="#ff5c5c"/><line x1="239.07" y1="332" x2="239.07" y2="330.0" stroke="#ff5c5c"/><line x1="241.43" y1="332" x2="241.43" y2="330.0" stroke="#ff5c5c"/><line x1="243.78" y1="332" x2="243.78" y2="328.7" stroke="#ff5c5c"/><line x1="246.14" y1="332" x2="246.14" y2="326.4" stroke="#ff5c5c"/><line x1="248.49" y1="332" x2="248.49" y2="323.0" stroke="#ff5c5c"/><line x1="250.85" y1="332" x2="250.85" y2="317.2" stroke="#ff5c5c"/><line x1="253.2" y1="332" x2="253.2" y2="311.9" stroke="#ff5c5c"/><line x1="255.56" y1="332" x2="255.56" y2="310.1" stroke="#ff5c5c"/><line x1="257.91" y1="332" x2="257.91" y2="311.4" stroke="#ff5c5c"/><line x1="260.27" y1="332" x2="260.27" y2="315.6" stroke="#ff5c5c"/><line x1="262.62" y1="332" x2="262.62" y2="318.9" stroke="#ff5c5c"/><line x1="264.98" y1="332" x2="264.98" y2="322.3" stroke="#ff5c5c"/><line x1="267.33" y1="332" x2="267.33" y2="326.6" stroke="#ff5c5c"/><line x1="269.69" y1="332" x2="269.69" y2="330.8" stroke="#ff5c5c"/><line x1="272.04" y1="332" x2="272.04" y2="334.2" stroke="#5c5cff"/><line x1="274.4" y1="332" x2="274.4" y2="335.5" stroke="#5c5cff"/><line x1="276.75" y1="332" x2="276.75" y2="338.2" stroke="#5c5cff"/><line x1="279.1" y1="332" x2="279.1" y2="341.8" stroke="#5c5cff"/><line x1="281.46" y1="332" x2="281.46" y2="345.2" stroke="#5c5cff"/><line x1="283.81" y1="332" x2="283.81" y2="346.2" stroke="#5c5cff"/><line x1="286.17" y1="332" x2="286.17" y2="346.2" stroke="#5c5cff"/><line x1="288.52" y1="332" x2="288.52" y2="346.2" stroke="#5c5cff"/><line x1="290.88" y1="332" x2="290.88" y2="347.2" stroke="#5c5cff"/><line x1="293.23" y1="332" x2="293.23" y2="349.5" stroke="#5c5cff"/><line x1="295.59" y1="332" x2="295.59" y2="352.0" stroke="#5c5cff"/><line x1="297.94" y1="332" x2="297.94" y2="353.6" stroke="#5c5cff"/><line x1="300.3" y1="332" x2="300.3" y2="341.4" stroke="#5c5cff"/><line x1="302.65" y1="332" x2="302.65" y2="347.7" stroke="#5c5cff"/><line x1="305.01" y1="332" x2="305.01" y2="350.0" stroke="#5c5cff"/><line x1="307.36" y1="332" x2="307.36" y2="351.2" stroke="#5c5cff"/><line x1="309.72" y1="332" x2="309.72" y2="350.2" stroke="#5c5cff"/><line x1="312.07" y1="332" x2="312.07" y2="344.2" stroke="#5c5cff"/><line x1="314.43" y1="332" x2="314.43" y2="335.4" stroke="#5c5cff"/><line x1="316.78" y1="332" x2="316.78" y2="334.5" stroke="#5c5cff"/><line x1="319.13" y1="332" x2="319.13" y2="334.9" stroke="#5c5cff"/><line x1="321.49" y1="332" x2="321.49" y2="334.9" stroke="#5c5cff"/><line x1="323.84" y1="332" x2="323.84" y2="334.7" stroke="#5c5cff"/><line x1="326.2" y1="332" x2="326.2" y2="334.3" stroke="#5c5cff"/><line x1="328.55" y1="332" x2="328.55" y2="333.7" stroke="#5c5cff"/><line x1="330.91" y1="332" x2="330.91" y2="331.9" stroke="#ff5c5c"/><line x1="333.26" y1="332" x2="333.26" y2="327.5" stroke="#ff5c5c"/><line x1="335.62" y1="332" x2="335.62" y2="324.5" stroke="#ff5c5c"/><line x1="337.97" y1="332" x2="337.97" y2="324.0" stroke="#ff5c5c"/><line x1="340.33" y1="332" x2="340.33" y2="329.6" stroke="#ff5c5c"/><line x1="342.68" y1="332" x2="342.68" y2="336.5" stroke="#5c5cff"/><line x1="345.04" y1="332" x2="345.04" y2="338.8" stroke="#5c5cff"/><line x1="347.39" y1="332" x2="347.39" y2="340.0" stroke="#5c5cff"/><line x1="349.75" y1="332" x2="349.75" y2="338.9" stroke="#5c5cff"/><line x1="352.1" y1="332" x2="352.1" y2="337.7" stroke="#5c5cff"/><line x1="354.45" y1="332" x2="354.45" y2="336.6" stroke="#5c5cff"/><line x1="356.81" y1="332" x2="356.81" y2="334.7" stroke="#5c5cff"/><line x1="359.16" y1="332" x2="359.16" y2="328.7" stroke="#ff5c5c"/><line x1="361.52" y1="332" x2="361.52" y2="322.0" stroke="#ff5c5c"/><line x1="363.87" y1="332" x2="363.87" y2="318.6" stroke="#ff5c5c"/><line x1="366.23" y1="332" x2="366.23" y2="316.3" stroke="#ff5c5c"/><line x1="368.58" y1="332" x2="368.58" y2="316.2" stroke="#ff5c5c"/><line x1="370.94" y1="332" x2="370.94" y2="317.0" stroke="#ff5c5c"/><line x1="373.29" y1="332" x2="373.29" y2="316.4" stroke="#ff5c5c"/><line x1="375.65" y1="332" x2="375.65" y2="315.4" stroke="#ff5c5c"/><line x1="378.0" y1="332" x2="378.0" y2="313.2" stroke="#ff5c5c"/><line x1="380.36" y1="332" x2="380.36" y2="311.5" stroke="#ff5c5c"/><line x1="382.71" y1="332" x2="382.71" y2="311.2" stroke="#ff5c5c"/><line x1="385.07" y1="332" x2="385.07" y2="312.7" stroke="#ff5c5c"/><line x1="387.42" y1="332" x2="387.42" y2="317.5" stroke="#ff5c5c"/><line x1="389.78" y1="332" x2="389.78" y2="321.1" stroke="#ff5c5c"/><line x1="392.13" y1="332" x2="392.13" y2="321.3" stroke="#ff5c5c"/><line x1="394.48" y1="332" x2="394.48" y2="318.1" stroke="#ff5c5c"/><line x1="396.84" y1="332" x2="396.84" y2="317.1" stroke="#ff5c5c"/><line x1="399.19" y1="332" x2="399.19" y2="317.5" stroke="#ff5c5c"/><line x1="401.55" y1="332" x2="401.55" y2="316.8" stroke="#ff5c5c"/><line x1="403.9" y1="332" x2="403.9" y2="315.7" stroke="#ff5c5c"/><line x1="406.26" y1="332" x2="406.26" y2="313.9" stroke="#ff5c5c"/><line x1="408.61" y1="332" x2="408.61" y2="312.8" stroke="#ff5c5c"/><line x1="410.97" y1="332" x2="410.97" y2="313.4" stroke="#ff5c5c"/><line x1="413.32" y1="332" x2="413.32" y2="314.1" stroke="#ff5c5c"/><line x1="415.68" y1="332" x2="415.68" y2="314.7" stroke="#ff5c5c"/><line x1="418.03" y1="332" x2="418.03" y2="315.2" stroke="#ff5c5c"/><line x1="420.39" y1="332" x2="420.39" y2="319.7" stroke="#ff5c5c"/><line x1="422.74" y1="332" x2="422.74" y2="331.4" stroke="#ff5c5c"/><line x1="425.1" y1="332" x2="425.1" y2="343.0" stroke="#5c5cff"/><line x1="427.45" y1="332" x2="427.45" y2="352.9" stroke="#5c5cff"/><line x1="429.81" y1="332" x2="429.81" y2="355.8" stroke="#5c5cff"/><line x1="432.16" y1="332" x2="432.16" y2="356.2" stroke="#5c5cff"/><line x1="434.51" y1="332" x2="434.51" y2="353.6" stroke="#5c5cff"/><line x1="436.87" y1="332" x2="436.87" y2="350.6" stroke="#5c5cff"/><line x1="439.22" y1="332" x2="439.22" y2="352.7" stroke="#5c5cff"/><line x1="441.58" y1="332" x2="441.58" y2="356.2" stroke="#5c5cff"/><line x1="443.93" y1="332" x2="443.93" y2="353.0" stroke="#5c5cff"/><line x1="446.29" y1="332" x2="446.29" y2="354.4" stroke="#5c5cff"/><line x1="448.64" y1="332" x2="448.64" y2="355.7" stroke="#5c5cff"/><line x1="451.0" y1="332" x2="451.0" y2="359.4" stroke="#5c5cff"/><line x1="453.35" y1="332" x2="453.35" y2="365.8" stroke="#5c5cff"/><line x1="455.71" y1="332" x2="455.71" y2="373.2" stroke="#5c5cff"/><line x1="458.06" y1="332" x2="458.06" y2="376.2" stroke="#5c5cff"/></g>
<polyline points="0.0,311.0 1.0,311.6 2.0,312.2 3.0,312.7 4.0,313.2 5.0,313.8 6.0,314.3 7.0,314.9 8.0,315.4 9.0,315.8 10.0,316.0 11.0,315.9 12.0,315.8 13.0,315.6 14.0,315.3 15.0,315.0 16.0,314.5 17.0,313.8 18.0,312.9 19.0,312.0 20.0,311.0 21.0,310.0 22.0,308.9 23.0,307.7 24.0,306.4 25.0,305.0 26.0,303.4 27.0,301.5 28.0,299.4 29.0,297.2 30.0,295.0 31.0,292.6 32.0,289.8 33.0,287.1 34.0,284.5 35.0,282.5 36.0,280.8 37.0,279.2 38.0,277.8 39.0,276.7 40.0,276.0 41.0,275.5 42.0,275.1 43.0,274.8 44.0,274.6 45.0,274.5 46.0,274.5 47.0,274.6 48.0,274.7 49.0,274.8 50.0,275.0 51.0,275.4 52.0,276.2 53.0,277.1 54.0,278.1 55.0,279.0 56.0,279.7 57.0,280.4 58.0,281.1 59.0,281.8 60.0,282.5 61.0,283.2 62.0,283.8 63.0,284.5 64.0,285.2 65.0,286.0 66.0,286.9 67.0,287.8 68.0,288.8 69.0,289.9 70.0,291.0 71.0,292.2 72.0,293.6 73.0,294.9 74.0,296.3 75.0,297.5 76.0,298.6 77.0,299.5 78.0,300.4 79.0,301.4 80.0,302.5 81.0,303.8 82.0,305.2 83.0,306.8 84.0,308.4 85.0,310.0 86.0,311.8 87.0,313.7 88.0,315.7 89.0,317.5 90.0,319.0 91.0,320.3 92.0,321.5 93.0,322.6 94.0,323.5 95.0,324.0 96.0,324.3 97.0,324.6 98.0,324.8 99.0,324.9 100.0,325.0 101.0,324.7 102.0,324.0 103.0,322.9 104.0,321.9 105.0,321.0 106.0,320.3 107.0,319.5 108.0,318.8 109.0,318.1 110.0,317.5 111.0,316.9 112.0,316.2 113.0,315.6 114.0,315.2 115.0,315.0 116.0,315.0 117.0,315.0 118.0,315.0 119.0,315.0 120.0,315.0 121.0,315.1 122.0,315.2 123.0,315.5 124.0,315.7 125.0,316.0 126.0,316.3 127.0,316.6 128.0,316.9 129.0,317.2 130.0,317.5 131.0,317.8 132.0,318.1 133.0,318.4 134.0,318.7 135.0,319.0 136.0,319.2 137.0,319.4 138.0,319.5 139.0,319.7 140.0,320.0 141.0,320.5 142.0,321.3 143.0,322.2 144.0,323.2 145.0,324.0 146.0,324.7 147.0,325.5 148.0,326.2 149.0,326.9 150.0,327.5 151.0,328.1 152.0,328.6 153.0,329.0 154.0,329.5 155.0,330.0 156.0,330.5 157.0,331.0 158.0,331.5 159.0,332.0 160.0,332.5 161.0,333.0 162.0,333.5 163.0,334.0 164.0,334.4 165.0,334.5 166.0,334.3 167.0,333.8 168.0,333.2 169.0,332.7 170.0,332.5 171.0,332.5 172.0,332.5 173.0,332.5 174.0,332.5 175.0,332.5 176.0,332.8 177.0,333.7 178.0,334.9 179.0,336.3 180.0,337.5 181.0,338.8 182.0,340.2 183.0,341.6 184.0,342.9 185.0,344.0 186.0,344.9 187.0,345.6 188.0,346.3 189.0,346.9 190.0,347.5 191.0,348.1 192.0,348.7 193.0,349.2 194.0,349.7 195.0,350.0 196.0,350.3 197.0,350.6 198.0,350.8 199.0,350.9 200.0,351.0 201.0,350.8 202.0,350.2 203.0,349.4 204.0,348.5 205.0,347.5 206.0,346.3 207.0,344.9 208.0,343.3 209.0,341.6 210.0,340.0 211.0,338.5 212.0,336.9 213.0,335.3 214.0,333.8 215.0,332.5 216.0,331.4 217.0,330.4 218.0,329.4 219.0,328.5 220.0,327.5 221.0,326.5 222.0,325.4 223.0,324.4 224.0,323.4 225.0,322.5 226.0,321.7 227.0,321.0 228.0,320.3 229.0,319.6 230.0,319.0 231.0,318.3 232.0,317.6 233.0,317.0 234.0,316.4 235.0,316.0 236.0,315.7 237.0,315.5 238.0,315.4 239.0,315.2 240.0,315.0 241.0,314.8 242.0,314.6 243.0,314.5 244.0,314.3 245.0,314.0 246.0,313.6 247.0,313.1 248.0,312.5 249.0,311.7 250.0,311.0 251.0,310.2 252.0,309.2 253.0,308.1 254.0,307.0 255.0,306.0 256.0,304.9 257.0,303.8 258.0,302.7 259.0,301.7 260.0,301.0 261.0,300.5 262.0,300.0 263.0,299.7 264.0,299.3 265.0,299.0 266.0,298.6 267.0,298.2 268.0,297.9 269.0,297.6 270.0,297.5 271.0,297.6 272.0,297.9 273.0,298.2 274.0,298.6 275.0,299.0 276.0,299.3 277.0,299.7 278.0,300.1 279.0,300.5 280.0,301.0 281.0,301.6 282.0,302.4 283.0,303.3 284.0,304.2 285.0,305.0 286.0,305.8 287.0,306.6 288.0,307.3 289.0,308.1 290.0,309.0 291.0,309.9 292.0,310.9 293.0,312.0 294.0,313.0 295.0,314.0 296.0,314.9 297.0,315.8 298.0,316.6 299.0,317.5 300.0,318.5 301.0,319.7 302.0,321.0 303.0,322.4 304.0,323.8 305.0,325.0 306.0,326.1 307.0,327.1 308.0,328.1 309.0,329.1 310.0,330.0 311.0,331.0 312.0,332.0 313.0,332.9 314.0,333.6 315.0,334.0 316.0,334.1 317.0,334.3 318.0,334.3 319.0,334.4 320.0,334.5 321.0,334.6 322.0,334.7 323.0,334.9 324.0,335.0 325.0,335.0 326.0,335.0 327.0,334.9 328.0,334.8 329.0,334.7 330.0,334.5 331.0,334.2 332.0,333.7 333.0,333.1 334.0,332.4 335.0,331.8 336.0,331.3 337.0,331.0 338.0,331.0 339.0,331.2 340.0,331.6 341.0,331.9 342.0,332.3 343.0,332.7 344.0,333.0 345.0,333.3 346.0,333.6 347.0,333.9 348.0,334.2 349.0,334.6 350.0,335.0 351.0,335.5 352.0,336.2 353.0,336.8 354.0,337.3 355.0,337.5 356.0,337.4 357.0,337.2 358.0,336.8 359.0,336.4 360.0,336.0 361.0,335.5 362.0,334.8 363.0,334.0 364.0,333.2 365.0,332.5 366.0,331.8 367.0,331.1 368.0,330.4 369.0,329.7 370.0,329.0 371.0,328.2 372.0,327.4 373.0,326.6 374.0,325.8 375.0,325.0 376.0,324.2 377.0,323.4 378.0,322.5 379.0,321.7 380.0,320.9 381.0,320.1 382.0,319.4 383.0,318.6 384.0,317.9 385.0,317.3 386.0,316.6 387.0,316.0 388.0,315.3 389.0,314.7 390.0,314.0 391.0,313.3 392.0,312.7 393.0,312.1 394.0,311.4 395.0,310.8 396.0,310.1 397.0,309.4 398.0,308.6 399.0,307.8 400.0,307.0 401.0,306.1 402.0,305.2 403.0,304.3 404.0,303.4 405.0,302.5 406.0,301.6 407.0,300.6 408.0,299.6 409.0,298.7 410.0,297.6 411.0,296.6 412.0,295.5 413.0,294.4 414.0,293.2 415.0,291.9 416.0,290.7 417.0,289.5 418.0,288.5 419.0,287.4 420.0,286.4 421.0,285.6 422.0,285.1 423.0,285.1 424.0,285.4 425.0,286.0 426.0,286.8 427.0,287.9 428.0,289.2 429.0,290.7 430.0,292.3 431.0,293.9 432.0,295.3 433.0,296.6 434.0,297.9 435.0,299.1 436.0,300.3 437.0,301.5 438.0,302.7 439.0,303.8 440.0,305.0 441.0,306.1 442.0,307.2 443.0,308.3 444.0,309.4 445.0,310.5 446.0,311.6 447.0,312.7 448.0,314.0 449.0,315.3 450.0,316.8 451.0,318.4 452.0,320.1 453.0,321.9 454.0,323.8 455.0,325.7 456.0,327.8 457.0,330.0 457.9,332.0" fill="none" stroke="#23a023" stroke-width="1.0" stroke-linejoin="round" />
<polyline points="0.0,315.0 1.0,316.4 2.0,317.6 3.0,318.7 4.0,319.5 5.0,320.0 6.0,320.3 7.0,320.6 8.0,320.8 9.0,320.9 10.0,321.0 11.0,320.6 12.0,319.7 13.0,318.3 14.0,316.7 15.0,315.0 16.0,313.1 17.0,310.6 18.0,307.9 19.0,305.1 20.0,302.5 21.0,300.1 22.0,297.7 23.0,295.2 24.0,292.7 25.0,290.0 26.0,287.0 27.0,283.9 28.0,280.6 29.0,277.2 30.0,273.8 31.0,269.8 32.0,266.1 33.0,264.2 34.0,263.0 35.0,262.5 36.0,262.6 37.0,263.0 38.0,263.6 39.0,264.2 40.0,265.0 41.0,266.3 42.0,268.4 43.0,270.7 44.0,272.7 45.0,273.8 46.0,274.1 47.0,274.3 48.0,274.4 49.0,274.6 50.0,275.0 51.0,276.7 52.0,280.2 53.0,284.3 54.0,288.0 55.0,290.0 56.0,290.7 57.0,291.2 58.0,291.6 59.0,292.0 60.0,292.5 61.0,293.3 62.0,294.2 63.0,295.3 64.0,296.4 65.0,297.5 66.0,298.8 67.0,300.3 68.0,301.8 69.0,303.0 70.0,303.8 71.0,304.1 72.0,304.3 73.0,304.5 74.0,304.7 75.0,305.0 76.0,305.7 77.0,307.0 78.0,308.7 79.0,310.6 80.0,312.5 81.0,314.8 82.0,317.7 83.0,320.8 84.0,323.6 85.0,326.0 86.0,328.0 87.0,329.8 88.0,331.5 89.0,332.8 90.0,333.8 91.0,334.4 92.0,334.9 93.0,334.8 94.0,333.8 95.0,332.5 96.0,331.1 97.0,329.3 98.0,327.4 99.0,325.5 100.0,323.8 101.0,322.1 102.0,320.5 103.0,318.9 104.0,317.4 105.0,316.0 106.0,314.7 107.0,313.4 108.0,312.1 109.0,311.0 110.0,310.0 111.0,309.0 112.0,308.1 113.0,308.1 114.0,309.0 115.0,310.0 116.0,311.1 117.0,312.4 118.0,313.8 119.0,315.0 120.0,316.0 121.0,316.7 122.0,317.3 123.0,317.9 124.0,318.4 125.0,318.8 126.0,319.1 127.0,319.4 128.0,319.7 129.0,319.9 130.0,320.0 131.0,320.0 132.0,320.0 133.0,320.0 134.0,320.0 135.0,320.0 136.0,320.1 137.0,320.5 138.0,321.0 139.0,321.7 140.0,322.5 141.0,324.0 142.0,326.4 143.0,329.1 144.0,331.4 145.0,332.5 146.0,332.8 147.0,333.0 148.0,333.1 149.0,333.3 150.0,333.5 151.0,333.9 152.0,334.4 153.0,335.0 154.0,335.5 155.0,336.0 156.0,336.4 157.0,336.8 158.0,337.2 159.0,337.4 160.0,337.5 161.0,337.3 162.0,336.9 163.0,336.2 164.0,335.6 165.0,335.0 166.0,334.5 167.0,333.9 168.0,333.4 169.0,332.9 170.0,332.5 171.0,332.1 172.0,331.7 173.0,331.3 174.0,331.1 175.0,331.0 176.0,331.7 177.0,333.2 178.0,335.1 179.0,338.2 180.0,341.0 181.0,343.0 182.0,344.7 183.0,346.3 184.0,347.7 185.0,349.0 186.0,350.2 187.0,351.4 188.0,352.5 189.0,353.4 190.0,354.0 191.0,354.5 192.0,354.9 193.0,355.2 194.0,355.4 195.0,355.5 196.0,355.3 197.0,354.9 198.0,354.2 199.0,353.4 200.0,352.5 201.0,351.1 202.0,348.8 203.0,346.2 204.0,343.5 205.0,341.0 206.0,338.7 207.0,336.4 208.0,334.1 209.0,331.9 210.0,330.0 211.0,328.2 212.0,326.5 213.0,325.0 214.0,323.6 215.0,322.5 216.0,321.6 217.0,320.8 218.0,320.1 219.0,319.5 220.0,319.0 221.0,318.6 222.0,318.4 223.0,318.2 224.0,317.9 225.0,317.5 226.0,316.8 227.0,315.7 228.0,314.5 229.0,313.4 230.0,312.5 231.0,311.8 232.0,311.1 233.0,310.6 234.0,310.2 235.0,310.0 236.0,310.4 237.0,311.4 238.0,312.6 239.0,313.6 240.0,314.0 241.0,314.0 242.0,314.0 243.0,314.0 244.0,314.0 245.0,314.0 246.0,313.6 247.0,312.5 248.0,310.9 249.0,309.2 250.0,307.5 251.0,305.7 252.0,303.5 253.0,301.2 254.0,299.1 255.0,297.5 256.0,296.1 257.0,294.8 258.0,293.6 259.0,292.8 260.0,292.5 261.0,292.5 262.0,292.6 263.0,292.7 264.0,292.8 265.0,293.0 266.0,293.6 267.0,294.8 268.0,296.3 269.0,297.8 270.0,299.0 271.0,299.8 272.0,300.5 273.0,301.1 274.0,301.8 275.0,302.5 276.0,303.4 277.0,304.5 278.0,305.5 279.0,306.6 280.0,307.5 281.0,308.2 282.0,308.9 283.0,309.5 284.0,310.2 285.0,311.0 286.0,312.1 287.0,313.3 288.0,314.7 289.0,316.1 290.0,317.5 291.0,318.8 292.0,320.2 293.0,321.6 294.0,322.9 295.0,324.0 296.0,325.0 297.0,325.9 298.0,326.8 299.0,327.7 300.0,328.5 301.0,329.3 302.0,330.1 303.0,330.9 304.0,331.7 305.0,332.5 306.0,333.5 307.0,334.6 308.0,335.8 309.0,336.8 310.0,337.5 311.0,338.0 312.0,338.5 313.0,338.9 314.0,339.0 315.0,338.3 316.0,336.7 317.0,335.4 318.0,334.8 319.0,334.5 320.0,334.3 321.0,334.1 322.0,334.0 323.0,334.0 324.0,334.3 325.0,334.8 326.0,335.2 327.0,335.5 328.0,335.5 329.0,335.3 330.0,335.0 331.0,334.7 332.0,334.2 333.0,333.7 334.0,332.6 335.0,331.2 336.0,329.9 337.0,329.1 338.0,329.0 339.0,329.2 340.0,329.6 341.0,330.0 342.0,330.9 343.0,332.2 344.0,333.8 345.0,335.0 346.0,335.9 347.0,336.8 348.0,337.6 349.0,338.4 350.0,339.0 351.0,339.7 352.0,340.3 353.0,340.8 354.0,341.0 355.0,340.5 356.0,339.5 357.0,338.1 358.0,336.9 359.0,335.4 360.0,333.8 361.0,332.1 362.0,330.6 363.0,329.4 364.0,328.3 365.0,327.3 366.0,326.4 367.0,325.4 368.0,324.6 369.0,323.8 370.0,323.0 371.0,322.3 372.0,321.5 373.0,320.5 374.0,319.4 375.0,318.2 376.0,317.0 377.0,315.7 378.0,314.3 379.0,312.7 380.0,311.0 381.0,309.4 382.0,308.0 383.0,307.0 384.0,306.0 385.0,305.2 386.0,304.5 387.0,304.1 388.0,304.0 389.0,304.2 390.0,304.4 391.0,304.5 392.0,304.1 393.0,303.2 394.0,302.1 395.0,301.0 396.0,300.0 397.0,299.0 398.0,297.9 399.0,296.9 400.0,296.0 401.0,295.3 402.0,294.6 403.0,294.0 404.0,293.3 405.0,292.5 406.0,291.3 407.0,289.7 408.0,288.0 409.0,286.4 410.0,285.0 411.0,283.8 412.0,282.7 413.0,281.7 414.0,280.7 415.0,280.0 416.0,279.3 417.0,278.7 418.0,278.5 419.0,278.9 420.0,279.8 421.0,281.0 422.0,283.1 423.0,286.4 424.0,290.3 425.0,294.1 426.0,297.0 427.0,299.2 428.0,301.3 429.0,303.2 430.0,304.9 431.0,306.5 432.0,307.9 433.0,309.2 434.0,310.4 435.0,311.4 436.0,312.4 437.0,313.3 438.0,314.1 439.0,315.0 440.0,315.8 441.0,316.5 442.0,317.1 443.0,317.8 444.0,318.5 445.0,319.5 446.0,320.6 447.0,322.2 448.0,324.2 449.0,326.4 450.0,328.7 451.0,331.3 452.0,334.4 453.0,337.6 454.0,340.7 455.0,343.5 456.0,346.4 457.0,349.3 458.0,352.4 458.5,354.0" fill="none" stroke="#303030" stroke-width="1.0" stroke-linejoin="round" />
<rect x="0" y="0" width="577" height="1.15" fill="#2a2a2a"/>
<rect x="576" y="0" width="1" height="384" fill="#3c3c3c"/>
<rect x="1" y="255" width="576" height="2" fill="#5a5a5a"/>
<rect x="1" y="257" width="576" height="0.8" fill="#a8a898"/>
<rect x="0" y="383" width="577" height="1" fill="#3c3c3c"/>
<polygon points="457.8,1 462.8,1 460.3,3.9" fill="#a4a488"/>
<g font-family="Liberation Sans, sans-serif" font-size="7" fill="#000" opacity="0.99" stroke="#000" stroke-width="0.12"><text transform="translate(579.00 19.25) scale(0.78 1)">2.0625</text><rect x="577" y="16.75" width="1.5" height="1" fill="#202020"/><text transform="translate(579.00 40.75) scale(0.78 1)">2.0460</text><rect x="577" y="38.25" width="1.5" height="1" fill="#202020"/><text transform="translate(579.00 62.24) scale(0.78 1)">2.0295</text><rect x="577" y="59.74" width="1.5" height="1" fill="#202020"/><text transform="translate(579.00 83.73) scale(0.78 1)">2.0125</text><rect x="577" y="81.23" width="1.5" height="1" fill="#202020"/><text transform="translate(579.00 105.23) scale(0.78 1)">1.9960</text><rect x="577" y="102.73" width="1.5" height="1" fill="#202020"/><text transform="translate(579.00 126.73) scale(0.78 1)">1.9790</text><rect x="577" y="124.23" width="1.5" height="1" fill="#202020"/><text transform="translate(579.00 148.22) scale(0.78 1)">1.9625</text><rect x="577" y="145.72" width="1.5" height="1" fill="#202020"/><text transform="translate(579.00 169.72) scale(0.78 1)">1.9455</text><rect x="577" y="167.22" width="1.5" height="1" fill="#202020"/><text transform="translate(579.00 191.21) scale(0.78 1)">1.9290</text><rect x="577" y="188.71" width="1.5" height="1" fill="#202020"/><text transform="translate(579.00 212.71) scale(0.78 1)">1.9120</text><rect x="577" y="210.21" width="1.5" height="1" fill="#202020"/><text transform="translate(579.00 234.20) scale(0.78 1)">1.8955</text><rect x="577" y="231.70" width="1.5" height="1" fill="#202020"/><text transform="translate(579.00 255.70) scale(0.78 1)">1.8790</text><rect x="577" y="253.20" width="1.5" height="1" fill="#202020"/><text transform="translate(578.00 264.30) scale(0.78 1)">0.0234</text><text transform="translate(578.00 334.40) scale(0.78 1)">0.00</text><text transform="translate(578.00 381.20) scale(0.78 1)">-0.016</text><rect x="577" y="331.5" width="1.5" height="1" fill="#202020"/><rect x="578" y="114" width="20" height="7.5" fill="#000"/><text stroke="#fff" transform="translate(579.60 120.30) scale(0.78 1)" fill="#fff">1.9844</text><text transform="translate(1.05 392.00) scale(0.78 1)">15 Nov 2006</text><rect x="0.75" y="383" width="1" height="2.5" fill="#3c3c3c"/><text transform="translate(38.73 392.00) scale(0.78 1)">7 Dec 2006</text><rect x="38.43" y="383" width="1" height="2.5" fill="#3c3c3c"/><text transform="translate(76.40 392.00) scale(0.78 1)">2 Jan 2007</text><rect x="76.10" y="383" width="1" height="2.5" fill="#3c3c3c"/><text transform="translate(114.08 392.00) scale(0.78 1)">24 Jan 2007</text><rect x="113.78" y="383" width="1" height="2.5" fill="#3c3c3c"/><text transform="translate(151.75 392.00) scale(0.78 1)">15 Feb 2007</text><rect x="151.45" y="383" width="1" height="2.5" fill="#3c3c3c"/><text transform="translate(189.43 392.00) scale(0.78 1)">9 Mar 2007</text><rect x="189.13" y="383" width="1" height="2.5" fill="#3c3c3c"/><text transform="translate(227.11 392.00) scale(0.78 1)">2 Apr 2007</text><rect x="226.81" y="383" width="1" height="2.5" fill="#3c3c3c"/><text transform="translate(264.78 392.00) scale(0.78 1)">24 Apr 2007</text><rect x="264.48" y="383" width="1" height="2.5" fill="#3c3c3c"/><text transform="translate(302.46 392.00) scale(0.78 1)">16 May 2007</text><rect x="302.16" y="383" width="1" height="2.5" fill="#3c3c3c"/><text transform="translate(340.13 392.00) scale(0.78 1)">7 Jun 2007</text><rect x="339.83" y="383" width="1" height="2.5" fill="#3c3c3c"/><text transform="translate(377.81 392.00) scale(0.78 1)">29 Jun 2007</text><rect x="377.51" y="383" width="1" height="2.5" fill="#3c3c3c"/><text transform="translate(415.49 392.00) scale(0.78 1)">23 Jul 2007</text><rect x="415.19" y="383" width="1" height="2.5" fill="#3c3c3c"/><text transform="translate(453.16 392.00) scale(0.78 1)">14 Aug 2007</text><rect x="452.86" y="383" width="1" height="2.5" fill="#3c3c3c"/><text transform="translate(3.00 266.00) scale(0.78 1)" fill="#222">MACD(12,26,9) -0.0074 -0.0003 0.0000 -0.0142</text></g>
<rect x="599" y="0" width="1" height="395" fill="#ececec"/>
<rect x="0" y="397" width="600" height="3" fill="#f4f4e6"/><rect x="49" y="396" width="50" height="4" fill="#ffffff"/><rect x="49" y="395" width="50" height="0.7" fill="#eeeddc"/><rect x="1" y="396" width="47.5" height="1" fill="#666666"/><rect x="1" y="397" width="47.5" height="1" fill="#aeae9e"/><rect x="47.8" y="396" width="1" height="4" fill="#707070"/><rect x="99" y="396" width="501" height="1" fill="#666666"/><rect x="99" y="397" width="501" height="1" fill="#aeae9e"/><rect x="99" y="396" width="1" height="4" fill="#707070"/><rect x="87.5" y="398.6" width="1.2" height="1.4" fill="#707070"/><rect x="146.2" y="398.6" width="1.2" height="1.4" fill="#707070"/><rect x="190.2" y="398.6" width="1.2" height="1.4" fill="#707070"/><rect x="193.5" y="398.6" width="1.2" height="1.4" fill="#707070"/><rect x="204.8" y="398.6" width="1.2" height="1.4" fill="#707070"/><rect x="247.0" y="398.6" width="1.2" height="1.4" fill="#707070"/><rect x="258.2" y="398.6" width="1.2" height="1.4" fill="#707070"/><rect x="300.8" y="398.6" width="1.2" height="1.4" fill="#707070"/><rect x="313.2" y="398.6" width="1.2" height="1.4" fill="#707070"/><rect x="354.5" y="398.6" width="1.2" height="1.4" fill="#707070"/><rect x="397.0" y="398.6" width="1.2" height="1.4" fill="#707070"/><rect x="409.5" y="398.6" width="1.2" height="1.4" fill="#707070"/><rect x="453.2" y="398.6" width="1.2" height="1.4" fill="#707070"/><rect x="463.2" y="398.6" width="1.2" height="1.4" fill="#707070"/><rect x="492.5" y="398.6" width="1.2" height="1.4" fill="#707070"/><rect x="495.5" y="398.6" width="1.2" height="1.4" fill="#707070"/><rect x="505.5" y="398.6" width="1.2" height="1.4" fill="#707070"/><rect x="546.5" y="398.6" width="1.2" height="1.4" fill="#707070"/><rect x="553.5" y="398.6" width="1.2" height="1.4" fill="#707070"/><rect x="557.5" y="398.6" width="1.2" height="1.4" fill="#707070"/></svg>
</body></html>
